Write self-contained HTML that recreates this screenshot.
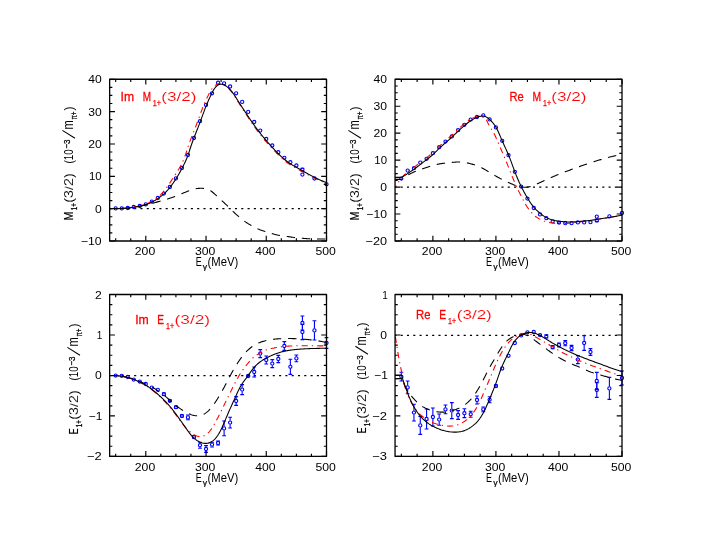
<!DOCTYPE html>
<html><head><meta charset="utf-8"><title>Multipoles</title>
<style>html,body{margin:0;padding:0;background:#fff}svg{display:block;will-change:transform;filter:opacity(1)}text{font-family:"Liberation Sans",sans-serif}</style></head>
<body>
<svg width="705" height="545" viewBox="0 0 705 545" font-family="Liberation Sans, sans-serif">
<rect width="705" height="545" fill="#fff"/>
<g id="p1">
<line x1="109.65" y1="208.50" x2="326.50" y2="208.50" stroke="#000" stroke-width="1.25" stroke-dasharray="2.1 4.2" stroke-dashoffset="0.7"/>
<circle cx="115.67" cy="208.40" r="1.6" stroke="#00f" stroke-width="1.12" fill="none"/>
<circle cx="121.70" cy="208.40" r="1.6" stroke="#00f" stroke-width="1.12" fill="none"/>
<circle cx="127.72" cy="208.00" r="1.6" stroke="#00f" stroke-width="1.12" fill="none"/>
<circle cx="133.74" cy="207.00" r="1.6" stroke="#00f" stroke-width="1.12" fill="none"/>
<circle cx="139.77" cy="206.00" r="1.6" stroke="#00f" stroke-width="1.12" fill="none"/>
<circle cx="145.79" cy="204.40" r="1.6" stroke="#00f" stroke-width="1.12" fill="none"/>
<circle cx="151.82" cy="201.60" r="1.6" stroke="#00f" stroke-width="1.12" fill="none"/>
<circle cx="157.84" cy="198.00" r="1.6" stroke="#00f" stroke-width="1.12" fill="none"/>
<circle cx="163.86" cy="193.60" r="1.6" stroke="#00f" stroke-width="1.12" fill="none"/>
<circle cx="169.89" cy="187.00" r="1.6" stroke="#00f" stroke-width="1.12" fill="none"/>
<circle cx="175.91" cy="178.40" r="1.6" stroke="#00f" stroke-width="1.12" fill="none"/>
<circle cx="181.93" cy="168.00" r="1.6" stroke="#00f" stroke-width="1.12" fill="none"/>
<circle cx="187.96" cy="155.00" r="1.6" stroke="#00f" stroke-width="1.12" fill="none"/>
<circle cx="193.98" cy="138.00" r="1.6" stroke="#00f" stroke-width="1.12" fill="none"/>
<circle cx="200.00" cy="121.20" r="1.6" stroke="#00f" stroke-width="1.12" fill="none"/>
<circle cx="206.03" cy="104.90" r="1.6" stroke="#00f" stroke-width="1.12" fill="none"/>
<circle cx="212.05" cy="93.30" r="1.6" stroke="#00f" stroke-width="1.12" fill="none"/>
<circle cx="218.07" cy="82.70" r="1.6" stroke="#00f" stroke-width="1.12" fill="none"/>
<circle cx="224.10" cy="83.30" r="1.6" stroke="#00f" stroke-width="1.12" fill="none"/>
<circle cx="230.12" cy="86.50" r="1.6" stroke="#00f" stroke-width="1.12" fill="none"/>
<circle cx="236.15" cy="93.30" r="1.6" stroke="#00f" stroke-width="1.12" fill="none"/>
<circle cx="242.17" cy="101.90" r="1.6" stroke="#00f" stroke-width="1.12" fill="none"/>
<circle cx="248.19" cy="111.90" r="1.6" stroke="#00f" stroke-width="1.12" fill="none"/>
<circle cx="254.22" cy="122.00" r="1.6" stroke="#00f" stroke-width="1.12" fill="none"/>
<circle cx="260.24" cy="130.60" r="1.6" stroke="#00f" stroke-width="1.12" fill="none"/>
<circle cx="266.26" cy="139.00" r="1.6" stroke="#00f" stroke-width="1.12" fill="none"/>
<circle cx="272.29" cy="145.50" r="1.6" stroke="#00f" stroke-width="1.12" fill="none"/>
<circle cx="278.31" cy="152.20" r="1.6" stroke="#00f" stroke-width="1.12" fill="none"/>
<circle cx="284.33" cy="157.80" r="1.6" stroke="#00f" stroke-width="1.12" fill="none"/>
<circle cx="290.36" cy="162.20" r="1.6" stroke="#00f" stroke-width="1.12" fill="none"/>
<circle cx="296.38" cy="165.50" r="1.6" stroke="#00f" stroke-width="1.12" fill="none"/>
<path d="M300.51,168.20h3.8M300.51,171.00h3.8" stroke="#00f" stroke-width="1.1" fill="none"/>
<circle cx="302.41" cy="169.60" r="1.6" stroke="#00f" stroke-width="1.12" fill="none"/>
<circle cx="302.41" cy="174.60" r="1.6" stroke="#00f" stroke-width="1.12" fill="none"/>
<circle cx="314.45" cy="178.50" r="1.6" stroke="#00f" stroke-width="1.12" fill="none"/>
<circle cx="326.50" cy="184.30" r="1.6" stroke="#00f" stroke-width="1.12" fill="none"/>
<path d="M109.60,208.60 L110.39,208.59 L111.19,208.59 L111.98,208.58 L112.78,208.57 L113.57,208.57 L114.37,208.56 L115.17,208.55 L115.97,208.54 L116.77,208.53 L117.56,208.51 L118.36,208.50 L119.16,208.48 L119.96,208.46 L120.76,208.43 L121.56,208.40 L122.36,208.37 L123.16,208.33 L123.95,208.29 L124.75,208.25 L125.55,208.19 L126.34,208.14 L127.14,208.08 L127.93,208.01 L128.73,207.93 L129.52,207.85 L130.31,207.76 L131.11,207.67 L131.90,207.57 L132.68,207.46 L133.47,207.34 L134.26,207.21 L135.04,207.07 L135.83,206.93 L136.61,206.78 L137.39,206.63 L138.17,206.47 L138.95,206.31 L139.73,206.14 L140.51,205.98 L141.29,205.81 L142.07,205.64 L142.85,205.48 L143.63,205.31 L144.42,205.15 L145.20,205.00 L145.98,204.85 L146.77,204.70 L147.55,204.55 L148.34,204.40 L149.12,204.25 L149.90,204.09 L150.68,203.92 L151.45,203.74 L152.23,203.54 L152.99,203.32 L153.76,203.10 L154.52,202.86 L155.28,202.61 L156.03,202.37 L156.79,202.12 L157.55,201.88 L158.32,201.64 L159.08,201.42 L159.85,201.19 L160.62,200.98 L161.38,200.77 L162.15,200.56 L162.92,200.35 L163.69,200.14 L164.46,199.93 L165.23,199.72 L166.00,199.50 L166.76,199.27 L167.52,199.04 L168.28,198.80 L169.04,198.55 L169.80,198.30 L170.55,198.04 L171.30,197.77 L172.05,197.50 L172.80,197.22 L173.55,196.94 L174.29,196.66 L175.04,196.37 L175.78,196.09 L176.52,195.80 L177.27,195.50 L178.01,195.21 L178.75,194.92 L179.49,194.62 L180.23,194.32 L180.97,194.02 L181.71,193.72 L182.44,193.42 L183.18,193.11 L183.92,192.81 L184.65,192.50 L185.39,192.20 L186.13,191.90 L186.87,191.60 L187.61,191.31 L188.35,191.02 L189.10,190.73 L189.85,190.46 L190.60,190.19 L191.35,189.93 L192.11,189.68 L192.88,189.44 L193.65,189.23 L194.42,189.03 L195.20,188.85 L195.98,188.70 L196.77,188.58 L197.56,188.48 L198.35,188.40 L199.15,188.35 L199.95,188.32 L200.75,188.30 L201.55,188.30 L202.34,188.32 L203.14,188.37 L203.94,188.44 L204.73,188.55 L205.51,188.70 L206.29,188.89 L207.06,189.12 L207.82,189.38 L208.56,189.69 L209.29,190.02 L210.00,190.40 L210.69,190.80 L211.36,191.24 L212.01,191.71 L212.63,192.21 L213.24,192.72 L213.85,193.25 L214.44,193.78 L215.03,194.32 L215.61,194.87 L216.20,195.41 L216.78,195.95 L217.37,196.49 L217.95,197.03 L218.54,197.58 L219.12,198.12 L219.70,198.66 L220.29,199.20 L220.87,199.74 L221.46,200.28 L222.04,200.83 L222.63,201.37 L223.22,201.91 L223.80,202.45 L224.39,202.99 L224.97,203.53 L225.55,204.08 L226.13,204.62 L226.71,205.17 L227.29,205.72 L227.86,206.28 L228.43,206.83 L229.00,207.40 L229.56,207.96 L230.12,208.53 L230.68,209.09 L231.24,209.66 L231.81,210.23 L232.37,210.79 L232.94,211.35 L233.50,211.91 L234.08,212.46 L234.66,213.01 L235.24,213.55 L235.83,214.09 L236.42,214.62 L237.02,215.15 L237.62,215.68 L238.23,216.20 L238.83,216.71 L239.45,217.23 L240.06,217.74 L240.68,218.24 L241.30,218.75 L241.92,219.25 L242.55,219.74 L243.18,220.23 L243.81,220.71 L244.45,221.18 L245.10,221.65 L245.75,222.11 L246.41,222.55 L247.08,222.99 L247.75,223.42 L248.43,223.84 L249.11,224.25 L249.80,224.66 L250.48,225.06 L251.18,225.46 L251.87,225.85 L252.57,226.24 L253.27,226.63 L253.98,227.00 L254.68,227.37 L255.40,227.73 L256.11,228.08 L256.84,228.42 L257.56,228.74 L258.29,229.06 L259.03,229.35 L259.78,229.64 L260.53,229.91 L261.28,230.17 L262.03,230.43 L262.79,230.68 L263.55,230.92 L264.31,231.16 L265.07,231.40 L265.83,231.65 L266.59,231.89 L267.35,232.14 L268.11,232.39 L268.87,232.64 L269.63,232.89 L270.38,233.13 L271.14,233.37 L271.91,233.61 L272.67,233.83 L273.44,234.05 L274.21,234.26 L274.98,234.46 L275.75,234.65 L276.53,234.83 L277.31,235.00 L278.09,235.17 L278.88,235.32 L279.66,235.46 L280.45,235.59 L281.23,235.71 L282.02,235.83 L282.81,235.93 L283.60,236.04 L284.40,236.13 L285.19,236.23 L285.98,236.33 L286.77,236.43 L287.56,236.53 L288.35,236.64 L289.14,236.76 L289.93,236.87 L290.72,236.99 L291.51,237.11 L292.30,237.22 L293.09,237.34 L293.87,237.44 L294.66,237.55 L295.46,237.65 L296.25,237.74 L297.04,237.82 L297.83,237.90 L298.63,237.97 L299.42,238.04 L300.22,238.10 L301.01,238.17 L301.81,238.23 L302.60,238.29 L303.40,238.36 L304.19,238.42 L304.99,238.48 L305.78,238.55 L306.58,238.61 L307.37,238.67 L308.17,238.73 L308.96,238.78 L309.76,238.83 L310.56,238.87 L311.35,238.91 L312.15,238.94 L312.94,238.96 L313.74,238.98 L314.54,238.99 L315.34,239.00 L316.13,239.00 L316.93,239.00 L317.73,239.00 L318.53,239.00 L319.32,238.99 L320.12,238.99 L320.92,238.98 L321.72,238.98 L322.52,238.98 L323.31,238.97 L324.11,238.98 L324.91,238.98 L325.70,238.99 L326.50,239.00" stroke="#000" stroke-width="1.08" fill="none" stroke-dasharray="8.4 6.8" stroke-dashoffset="2.2"/>
<path d="M109.60,208.60 L110.39,208.62 L111.19,208.64 L111.99,208.65 L112.78,208.67 L113.58,208.67 L114.38,208.67 L115.18,208.67 L115.98,208.67 L116.77,208.66 L117.57,208.64 L118.37,208.62 L119.17,208.60 L119.97,208.57 L120.77,208.53 L121.57,208.49 L122.37,208.45 L123.17,208.40 L123.96,208.34 L124.76,208.28 L125.56,208.21 L126.35,208.14 L127.15,208.06 L127.94,207.97 L128.74,207.88 L129.53,207.78 L130.32,207.68 L131.12,207.57 L131.91,207.45 L132.70,207.33 L133.48,207.20 L134.27,207.06 L135.05,206.92 L135.84,206.76 L136.62,206.60 L137.40,206.44 L138.18,206.26 L138.96,206.08 L139.73,205.89 L140.51,205.69 L141.28,205.49 L142.05,205.27 L142.81,205.05 L143.58,204.81 L144.34,204.57 L145.09,204.31 L145.85,204.05 L146.59,203.77 L147.34,203.48 L148.08,203.17 L148.81,202.86 L149.54,202.53 L150.26,202.19 L150.97,201.83 L151.68,201.46 L152.39,201.08 L153.08,200.68 L153.77,200.27 L154.45,199.85 L155.11,199.41 L155.77,198.95 L156.42,198.48 L157.05,198.00 L157.68,197.50 L158.29,196.99 L158.89,196.46 L159.47,195.92 L160.05,195.36 L160.61,194.79 L161.16,194.22 L161.71,193.63 L162.24,193.04 L162.77,192.43 L163.28,191.82 L163.79,191.21 L164.30,190.59 L164.80,189.96 L165.29,189.33 L165.77,188.70 L166.25,188.06 L166.72,187.42 L167.19,186.77 L167.66,186.12 L168.11,185.47 L168.57,184.81 L169.02,184.15 L169.46,183.49 L169.90,182.83 L170.34,182.16 L170.78,181.49 L171.22,180.83 L171.66,180.16 L172.09,179.49 L172.53,178.82 L172.97,178.15 L173.41,177.49 L173.85,176.82 L174.29,176.16 L174.74,175.49 L175.18,174.83 L175.62,174.16 L176.06,173.50 L176.50,172.83 L176.93,172.16 L177.37,171.49 L177.79,170.82 L178.21,170.14 L178.63,169.46 L179.04,168.77 L179.44,168.08 L179.84,167.39 L180.22,166.69 L180.60,165.99 L180.97,165.28 L181.34,164.57 L181.69,163.85 L182.04,163.13 L182.38,162.41 L182.71,161.68 L183.04,160.95 L183.36,160.22 L183.67,159.48 L183.97,158.74 L184.27,158.00 L184.56,157.25 L184.84,156.51 L185.11,155.75 L185.38,155.00 L185.63,154.25 L185.89,153.49 L186.14,152.73 L186.38,151.97 L186.62,151.21 L186.86,150.45 L187.10,149.69 L187.35,148.93 L187.59,148.17 L187.83,147.41 L188.08,146.65 L188.34,145.89 L188.60,145.14 L188.86,144.39 L189.13,143.63 L189.40,142.88 L189.67,142.13 L189.95,141.38 L190.23,140.64 L190.51,139.89 L190.79,139.14 L191.08,138.40 L191.36,137.65 L191.65,136.91 L191.94,136.17 L192.23,135.42 L192.52,134.68 L192.81,133.94 L193.11,133.19 L193.40,132.45 L193.69,131.71 L193.98,130.96 L194.27,130.22 L194.57,129.48 L194.86,128.74 L195.15,127.99 L195.44,127.25 L195.73,126.50 L196.01,125.76 L196.30,125.02 L196.58,124.27 L196.87,123.52 L197.15,122.78 L197.43,122.03 L197.70,121.28 L197.98,120.53 L198.25,119.78 L198.53,119.03 L198.80,118.28 L199.07,117.53 L199.35,116.78 L199.62,116.03 L199.89,115.28 L200.17,114.53 L200.44,113.78 L200.72,113.03 L200.99,112.28 L201.27,111.53 L201.55,110.79 L201.84,110.04 L202.12,109.30 L202.41,108.55 L202.70,107.81 L202.99,107.07 L203.29,106.33 L203.59,105.59 L203.89,104.85 L204.20,104.12 L204.51,103.38 L204.83,102.65 L205.15,101.92 L205.47,101.19 L205.80,100.47 L206.13,99.74 L206.47,99.02 L206.81,98.29 L207.15,97.57 L207.50,96.85 L207.85,96.14 L208.21,95.42 L208.57,94.71 L208.94,94.00 L209.31,93.29 L209.69,92.58 L210.08,91.88 L210.48,91.18 L210.89,90.49 L211.32,89.82 L211.76,89.16 L212.23,88.51 L212.73,87.88 L213.25,87.27 L213.80,86.69 L214.38,86.13 L215.00,85.61 L215.65,85.13 L216.33,84.71 L217.05,84.35 L217.80,84.06 L218.57,83.84 L219.37,83.72 L220.17,83.68 L220.97,83.75 L221.75,83.92 L222.51,84.17 L223.26,84.48 L223.97,84.85 L224.66,85.26 L225.32,85.70 L225.96,86.18 L226.59,86.68 L227.19,87.21 L227.78,87.75 L228.35,88.31 L228.91,88.88 L229.46,89.46 L229.99,90.06 L230.51,90.66 L231.02,91.28 L231.52,91.90 L232.00,92.54 L232.47,93.18 L232.93,93.83 L233.38,94.49 L233.83,95.15 L234.27,95.82 L234.71,96.49 L235.14,97.16 L235.57,97.83 L236.00,98.51 L236.42,99.18 L236.85,99.86 L237.28,100.53 L237.70,101.21 L238.13,101.88 L238.56,102.56 L238.99,103.23 L239.41,103.91 L239.84,104.58 L240.27,105.25 L240.70,105.92 L241.13,106.60 L241.56,107.27 L241.99,107.94 L242.42,108.61 L242.86,109.28 L243.29,109.95 L243.73,110.62 L244.16,111.29 L244.60,111.95 L245.03,112.62 L245.47,113.29 L245.91,113.96 L246.35,114.63 L246.78,115.29 L247.22,115.96 L247.66,116.63 L248.09,117.30 L248.53,117.97 L248.97,118.63 L249.40,119.30 L249.84,119.97 L250.28,120.64 L250.72,121.30 L251.16,121.97 L251.60,122.63 L252.05,123.30 L252.49,123.96 L252.94,124.62 L253.39,125.27 L253.85,125.93 L254.31,126.58 L254.77,127.23 L255.24,127.88 L255.70,128.53 L256.18,129.17 L256.65,129.81 L257.13,130.45 L257.61,131.09 L258.09,131.73 L258.57,132.36 L259.06,132.99 L259.55,133.62 L260.04,134.25 L260.53,134.88 L261.03,135.51 L261.53,136.13 L262.03,136.75 L262.53,137.38 L263.03,137.99 L263.54,138.61 L264.05,139.22 L264.57,139.83 L265.08,140.44 L265.60,141.05 L266.13,141.65 L266.66,142.25 L267.19,142.84 L267.72,143.43 L268.26,144.03 L268.79,144.62 L269.33,145.20 L269.87,145.79 L270.41,146.38 L270.96,146.97 L271.50,147.55 L272.04,148.14 L272.58,148.73 L273.12,149.32 L273.65,149.91 L274.19,150.50 L274.74,151.08 L275.28,151.67 L275.82,152.25 L276.37,152.83 L276.92,153.41 L277.48,153.98 L278.04,154.54 L278.61,155.10 L279.18,155.66 L279.76,156.21 L280.34,156.76 L280.93,157.30 L281.52,157.84 L282.11,158.37 L282.71,158.90 L283.31,159.42 L283.92,159.94 L284.53,160.46 L285.14,160.98 L285.76,161.49 L286.38,161.99 L287.01,162.48 L287.64,162.97 L288.28,163.44 L288.93,163.91 L289.59,164.36 L290.25,164.80 L290.93,165.22 L291.61,165.64 L292.30,166.04 L292.99,166.43 L293.69,166.82 L294.39,167.21 L295.09,167.59 L295.79,167.97 L296.49,168.36 L297.19,168.75 L297.88,169.14 L298.58,169.53 L299.27,169.93 L299.96,170.32 L300.66,170.72 L301.35,171.12 L302.04,171.51 L302.74,171.90 L303.43,172.30 L304.13,172.69 L304.83,173.08 L305.52,173.46 L306.22,173.85 L306.92,174.23 L307.63,174.61 L308.33,174.99 L309.03,175.37 L309.74,175.74 L310.45,176.11 L311.16,176.47 L311.87,176.84 L312.58,177.20 L313.29,177.55 L314.01,177.91 L314.73,178.26 L315.45,178.60 L316.17,178.94 L316.89,179.28 L317.62,179.61 L318.34,179.94 L319.07,180.26 L319.81,180.58 L320.54,180.89 L321.28,181.20 L322.01,181.50 L322.76,181.80 L323.50,182.09 L324.25,182.38 L324.99,182.66 L325.75,182.93 L326.50,183.20" stroke="#f00" stroke-width="1.08" fill="none" stroke-dasharray="6.2 4 1.3 4" stroke-dashoffset="-6.8"/>
<path d="M109.60,208.60 L110.40,208.58 L111.20,208.57 L111.99,208.55 L112.79,208.54 L113.59,208.53 L114.39,208.52 L115.19,208.51 L115.98,208.49 L116.78,208.48 L117.58,208.47 L118.38,208.46 L119.18,208.45 L119.97,208.43 L120.77,208.42 L121.57,208.40 L122.37,208.38 L123.17,208.36 L123.96,208.33 L124.76,208.30 L125.56,208.25 L126.36,208.21 L127.15,208.15 L127.95,208.08 L128.74,208.00 L129.53,207.91 L130.32,207.81 L131.12,207.70 L131.91,207.58 L132.70,207.46 L133.48,207.34 L134.27,207.21 L135.06,207.07 L135.84,206.94 L136.63,206.79 L137.42,206.65 L138.20,206.50 L138.98,206.35 L139.76,206.19 L140.55,206.02 L141.33,205.85 L142.11,205.67 L142.88,205.49 L143.65,205.29 L144.43,205.08 L145.19,204.86 L145.95,204.62 L146.71,204.37 L147.46,204.10 L148.21,203.81 L148.95,203.51 L149.69,203.20 L150.42,202.87 L151.14,202.53 L151.85,202.17 L152.56,201.80 L153.26,201.42 L153.95,201.03 L154.64,200.62 L155.32,200.21 L156.00,199.78 L156.67,199.35 L157.34,198.91 L158.00,198.46 L158.66,198.01 L159.32,197.55 L159.97,197.08 L160.61,196.61 L161.24,196.13 L161.87,195.63 L162.49,195.13 L163.10,194.61 L163.70,194.09 L164.29,193.55 L164.87,193.00 L165.44,192.44 L165.99,191.87 L166.54,191.29 L167.08,190.70 L167.62,190.11 L168.14,189.50 L168.66,188.89 L169.17,188.28 L169.67,187.66 L170.17,187.03 L170.67,186.40 L171.16,185.77 L171.64,185.13 L172.12,184.49 L172.59,183.85 L173.06,183.20 L173.52,182.55 L173.98,181.90 L174.43,181.24 L174.87,180.58 L175.31,179.91 L175.75,179.24 L176.17,178.57 L176.60,177.89 L177.01,177.21 L177.43,176.53 L177.83,175.84 L178.24,175.16 L178.64,174.47 L179.03,173.77 L179.42,173.08 L179.81,172.38 L180.20,171.68 L180.58,170.98 L180.96,170.27 L181.33,169.57 L181.71,168.86 L182.08,168.15 L182.45,167.45 L182.82,166.74 L183.19,166.02 L183.55,165.31 L183.91,164.60 L184.26,163.88 L184.61,163.16 L184.96,162.44 L185.30,161.72 L185.63,160.99 L185.96,160.26 L186.28,159.53 L186.60,158.80 L186.90,158.06 L187.20,157.33 L187.49,156.58 L187.78,155.84 L188.05,155.09 L188.31,154.34 L188.57,153.58 L188.82,152.82 L189.07,152.06 L189.31,151.30 L189.55,150.54 L189.79,149.78 L190.03,149.02 L190.27,148.26 L190.51,147.50 L190.76,146.74 L191.01,145.98 L191.26,145.22 L191.53,144.47 L191.79,143.72 L192.06,142.97 L192.34,142.22 L192.61,141.47 L192.89,140.72 L193.18,139.97 L193.46,139.23 L193.75,138.48 L194.03,137.74 L194.32,136.99 L194.61,136.25 L194.90,135.51 L195.19,134.76 L195.48,134.02 L195.77,133.28 L196.07,132.53 L196.36,131.79 L196.65,131.05 L196.94,130.30 L197.23,129.56 L197.52,128.82 L197.82,128.08 L198.10,127.33 L198.39,126.59 L198.68,125.84 L198.97,125.10 L199.25,124.35 L199.53,123.61 L199.82,122.86 L200.09,122.11 L200.37,121.36 L200.65,120.62 L200.92,119.87 L201.20,119.12 L201.47,118.37 L201.75,117.62 L202.02,116.87 L202.29,116.12 L202.57,115.37 L202.84,114.62 L203.11,113.87 L203.39,113.12 L203.67,112.37 L203.95,111.62 L204.23,110.88 L204.51,110.13 L204.79,109.38 L205.08,108.64 L205.37,107.89 L205.66,107.15 L205.96,106.41 L206.25,105.67 L206.56,104.93 L206.86,104.19 L207.17,103.45 L207.48,102.72 L207.80,101.98 L208.11,101.25 L208.43,100.52 L208.76,99.79 L209.08,99.06 L209.41,98.33 L209.75,97.61 L210.08,96.89 L210.42,96.16 L210.76,95.44 L211.11,94.72 L211.46,94.00 L211.81,93.29 L212.16,92.57 L212.52,91.86 L212.89,91.16 L213.28,90.46 L213.68,89.78 L214.11,89.10 L214.56,88.44 L215.04,87.80 L215.56,87.17 L216.12,86.56 L216.71,85.99 L217.34,85.46 L218.01,85.00 L218.72,84.63 L219.46,84.36 L220.24,84.21 L221.04,84.17 L221.84,84.24 L222.64,84.39 L223.41,84.62 L224.15,84.92 L224.87,85.27 L225.57,85.66 L226.25,86.10 L226.90,86.57 L227.53,87.06 L228.14,87.58 L228.73,88.12 L229.30,88.68 L229.85,89.26 L230.39,89.84 L230.91,90.45 L231.42,91.06 L231.92,91.69 L232.40,92.32 L232.88,92.96 L233.34,93.61 L233.80,94.27 L234.25,94.93 L234.69,95.60 L235.13,96.27 L235.57,96.94 L236.00,97.61 L236.43,98.29 L236.86,98.96 L237.29,99.63 L237.72,100.31 L238.15,100.98 L238.57,101.66 L239.00,102.33 L239.42,103.01 L239.85,103.68 L240.28,104.35 L240.70,105.03 L241.13,105.70 L241.56,106.37 L241.99,107.04 L242.42,107.71 L242.86,108.38 L243.29,109.05 L243.73,109.72 L244.17,110.39 L244.61,111.05 L245.05,111.72 L245.49,112.38 L245.93,113.05 L246.37,113.71 L246.82,114.38 L247.26,115.04 L247.70,115.71 L248.15,116.37 L248.59,117.03 L249.03,117.70 L249.48,118.36 L249.93,119.02 L250.37,119.68 L250.82,120.34 L251.27,121.00 L251.72,121.66 L252.17,122.32 L252.62,122.98 L253.08,123.63 L253.54,124.29 L254.00,124.94 L254.46,125.59 L254.92,126.24 L255.39,126.88 L255.86,127.53 L256.33,128.17 L256.81,128.81 L257.29,129.45 L257.77,130.09 L258.25,130.73 L258.73,131.36 L259.22,132.00 L259.71,132.63 L260.20,133.25 L260.69,133.88 L261.19,134.51 L261.69,135.13 L262.19,135.75 L262.69,136.37 L263.20,136.99 L263.71,137.60 L264.22,138.21 L264.74,138.82 L265.25,139.43 L265.77,140.04 L266.30,140.64 L266.82,141.24 L267.35,141.84 L267.88,142.44 L268.41,143.03 L268.94,143.63 L269.48,144.22 L270.01,144.81 L270.55,145.40 L271.09,145.99 L271.62,146.58 L272.16,147.18 L272.70,147.77 L273.23,148.36 L273.77,148.95 L274.31,149.53 L274.85,150.12 L275.40,150.70 L275.95,151.29 L276.50,151.86 L277.05,152.44 L277.61,153.01 L278.17,153.57 L278.74,154.13 L279.31,154.69 L279.89,155.24 L280.47,155.78 L281.06,156.32 L281.65,156.86 L282.25,157.39 L282.85,157.92 L283.45,158.44 L284.06,158.96 L284.67,159.48 L285.28,159.99 L285.90,160.50 L286.53,160.99 L287.16,161.49 L287.79,161.97 L288.43,162.44 L289.08,162.91 L289.74,163.36 L290.40,163.80 L291.08,164.23 L291.75,164.65 L292.44,165.06 L293.13,165.46 L293.82,165.86 L294.51,166.26 L295.21,166.65 L295.91,167.04 L296.61,167.43 L297.30,167.82 L298.00,168.21 L298.69,168.60 L299.39,169.00 L300.08,169.39 L300.77,169.79 L301.47,170.18 L302.16,170.58 L302.85,170.97 L303.55,171.37 L304.24,171.76 L304.93,172.16 L305.63,172.55 L306.32,172.94 L307.02,173.33 L307.72,173.72 L308.41,174.11 L309.11,174.50 L309.81,174.88 L310.51,175.26 L311.22,175.64 L311.92,176.02 L312.63,176.39 L313.34,176.76 L314.04,177.12 L314.76,177.48 L315.47,177.84 L316.19,178.19 L316.90,178.54 L317.62,178.88 L318.35,179.21 L319.07,179.55 L319.80,179.87 L320.53,180.19 L321.27,180.50 L322.00,180.81 L322.74,181.11 L323.49,181.40 L324.24,181.69 L324.99,181.97 L325.74,182.24 L326.50,182.50" stroke="#000" stroke-width="1.08" fill="none"/>
<rect x="109.65" y="79.25" width="216.85" height="161.75" fill="none" stroke="#000" stroke-width="1.3" stroke-linejoin="round"/>
<path d="M115.67,241.00v-2.7M115.67,79.25v2.7 M130.73,241.00v-2.7M130.73,79.25v2.7 M145.79,241.00v-5.3M145.79,79.25v5.3 M160.85,241.00v-2.7M160.85,79.25v2.7 M175.91,241.00v-2.7M175.91,79.25v2.7 M190.97,241.00v-2.7M190.97,79.25v2.7 M206.03,241.00v-5.3M206.03,79.25v5.3 M221.09,241.00v-2.7M221.09,79.25v2.7 M236.15,241.00v-2.7M236.15,79.25v2.7 M251.20,241.00v-2.7M251.20,79.25v2.7 M266.26,241.00v-5.3M266.26,79.25v5.3 M281.32,241.00v-2.7M281.32,79.25v2.7 M296.38,241.00v-2.7M296.38,79.25v2.7 M311.44,241.00v-2.7M311.44,79.25v2.7 M326.50,241.00v-5.3M326.50,79.25v5.3 M109.65,241.00h5.3M326.50,241.00h-5.3 M109.65,232.91h2.7M326.50,232.91h-2.7 M109.65,224.82h2.7M326.50,224.82h-2.7 M109.65,216.74h2.7M326.50,216.74h-2.7 M109.65,208.65h5.3M326.50,208.65h-5.3 M109.65,200.56h2.7M326.50,200.56h-2.7 M109.65,192.47h2.7M326.50,192.47h-2.7 M109.65,184.39h2.7M326.50,184.39h-2.7 M109.65,176.30h5.3M326.50,176.30h-5.3 M109.65,168.21h2.7M326.50,168.21h-2.7 M109.65,160.12h2.7M326.50,160.12h-2.7 M109.65,152.04h2.7M326.50,152.04h-2.7 M109.65,143.95h5.3M326.50,143.95h-5.3 M109.65,135.86h2.7M326.50,135.86h-2.7 M109.65,127.78h2.7M326.50,127.78h-2.7 M109.65,119.69h2.7M326.50,119.69h-2.7 M109.65,111.60h5.3M326.50,111.60h-5.3 M109.65,103.51h2.7M326.50,103.51h-2.7 M109.65,95.42h2.7M326.50,95.42h-2.7 M109.65,87.34h2.7M326.50,87.34h-2.7 M109.65,79.25h5.3M326.50,79.25h-5.3" stroke="#000" stroke-width="1.15" fill="none"/>
<text x="144.99" y="255.30" font-size="11" fill="#000" text-anchor="middle" textLength="20.40" lengthAdjust="spacingAndGlyphs" >200</text>
<text x="205.23" y="255.30" font-size="11" fill="#000" text-anchor="middle" textLength="20.40" lengthAdjust="spacingAndGlyphs" >300</text>
<text x="265.46" y="255.30" font-size="11" fill="#000" text-anchor="middle" textLength="20.40" lengthAdjust="spacingAndGlyphs" >400</text>
<text x="325.70" y="255.30" font-size="11" fill="#000" text-anchor="middle" textLength="20.40" lengthAdjust="spacingAndGlyphs" >500</text>
<text x="101.65" y="83.25" font-size="11" fill="#000" text-anchor="end" textLength="13.50" lengthAdjust="spacingAndGlyphs" >40</text>
<text x="101.65" y="115.60" font-size="11" fill="#000" text-anchor="end" textLength="13.50" lengthAdjust="spacingAndGlyphs" >30</text>
<text x="101.65" y="147.95" font-size="11" fill="#000" text-anchor="end" textLength="13.50" lengthAdjust="spacingAndGlyphs" >20</text>
<text x="101.65" y="180.30" font-size="11" fill="#000" text-anchor="end" textLength="12.70" lengthAdjust="spacingAndGlyphs" >10</text>
<text x="101.65" y="212.65" font-size="11" fill="#000" text-anchor="end" textLength="6.75" lengthAdjust="spacingAndGlyphs" >0</text>
<text x="101.65" y="245.00" font-size="11" fill="#000" text-anchor="end" textLength="20.70" lengthAdjust="spacingAndGlyphs" >−10</text>
<text x="195.68" y="266.30" font-size="12" fill="#000" text-anchor="start" textLength="6.00" lengthAdjust="spacingAndGlyphs" >E</text>
<text x="202.88" y="269.30" font-size="7.5" fill="#000" text-anchor="start" textLength="4.40" lengthAdjust="spacingAndGlyphs" stroke="#000" stroke-width="0.2">γ</text>
<text x="207.47" y="266.30" font-size="12" fill="#000" text-anchor="start" textLength="30.80" lengthAdjust="spacingAndGlyphs" >(MeV)</text>
</g>
<g id="p2">
<line x1="395.05" y1="187.00" x2="622.00" y2="187.00" stroke="#000" stroke-width="1.25" stroke-dasharray="2.1 4.2" stroke-dashoffset="0.7"/>
<circle cx="401.35" cy="178.60" r="1.6" stroke="#00f" stroke-width="1.12" fill="none"/>
<circle cx="407.66" cy="170.60" r="1.6" stroke="#00f" stroke-width="1.12" fill="none"/>
<circle cx="413.96" cy="168.20" r="1.6" stroke="#00f" stroke-width="1.12" fill="none"/>
<circle cx="420.27" cy="162.60" r="1.6" stroke="#00f" stroke-width="1.12" fill="none"/>
<circle cx="426.57" cy="158.80" r="1.6" stroke="#00f" stroke-width="1.12" fill="none"/>
<circle cx="432.88" cy="153.20" r="1.6" stroke="#00f" stroke-width="1.12" fill="none"/>
<circle cx="439.18" cy="147.20" r="1.6" stroke="#00f" stroke-width="1.12" fill="none"/>
<circle cx="445.48" cy="141.60" r="1.6" stroke="#00f" stroke-width="1.12" fill="none"/>
<circle cx="451.79" cy="136.40" r="1.6" stroke="#00f" stroke-width="1.12" fill="none"/>
<circle cx="458.09" cy="130.20" r="1.6" stroke="#00f" stroke-width="1.12" fill="none"/>
<circle cx="464.40" cy="124.80" r="1.6" stroke="#00f" stroke-width="1.12" fill="none"/>
<circle cx="470.70" cy="119.60" r="1.6" stroke="#00f" stroke-width="1.12" fill="none"/>
<circle cx="477.00" cy="117.00" r="1.6" stroke="#00f" stroke-width="1.12" fill="none"/>
<circle cx="483.31" cy="115.40" r="1.6" stroke="#00f" stroke-width="1.12" fill="none"/>
<circle cx="489.61" cy="119.40" r="1.6" stroke="#00f" stroke-width="1.12" fill="none"/>
<circle cx="495.92" cy="127.40" r="1.6" stroke="#00f" stroke-width="1.12" fill="none"/>
<circle cx="502.22" cy="140.80" r="1.6" stroke="#00f" stroke-width="1.12" fill="none"/>
<circle cx="508.52" cy="155.20" r="1.6" stroke="#00f" stroke-width="1.12" fill="none"/>
<circle cx="514.83" cy="171.80" r="1.6" stroke="#00f" stroke-width="1.12" fill="none"/>
<circle cx="521.13" cy="186.60" r="1.6" stroke="#00f" stroke-width="1.12" fill="none"/>
<circle cx="527.44" cy="198.60" r="1.6" stroke="#00f" stroke-width="1.12" fill="none"/>
<circle cx="533.74" cy="208.00" r="1.6" stroke="#00f" stroke-width="1.12" fill="none"/>
<circle cx="540.05" cy="214.40" r="1.6" stroke="#00f" stroke-width="1.12" fill="none"/>
<circle cx="546.35" cy="218.20" r="1.6" stroke="#00f" stroke-width="1.12" fill="none"/>
<circle cx="552.65" cy="221.40" r="1.6" stroke="#00f" stroke-width="1.12" fill="none"/>
<path d="M557.06,221.80h3.8M557.06,223.40h3.8" stroke="#00f" stroke-width="1.1" fill="none"/>
<circle cx="558.96" cy="222.60" r="1.6" stroke="#00f" stroke-width="1.12" fill="none"/>
<circle cx="565.26" cy="223.20" r="1.6" stroke="#00f" stroke-width="1.12" fill="none"/>
<circle cx="571.57" cy="223.20" r="1.6" stroke="#00f" stroke-width="1.12" fill="none"/>
<circle cx="577.87" cy="222.40" r="1.6" stroke="#00f" stroke-width="1.12" fill="none"/>
<circle cx="584.17" cy="222.40" r="1.6" stroke="#00f" stroke-width="1.12" fill="none"/>
<circle cx="590.48" cy="222.20" r="1.6" stroke="#00f" stroke-width="1.12" fill="none"/>
<circle cx="596.78" cy="216.60" r="1.6" stroke="#00f" stroke-width="1.12" fill="none"/>
<path d="M594.88,219.20h3.8M594.88,221.60h3.8" stroke="#00f" stroke-width="1.1" fill="none"/>
<circle cx="596.78" cy="220.40" r="1.6" stroke="#00f" stroke-width="1.12" fill="none"/>
<circle cx="609.39" cy="216.40" r="1.6" stroke="#00f" stroke-width="1.12" fill="none"/>
<circle cx="622.00" cy="213.00" r="1.6" stroke="#00f" stroke-width="1.12" fill="none"/>
<path d="M395.10,179.40 L401.40,179.40 L401.40,179.40 L402.04,178.92 L402.68,178.44 L403.33,177.98 L403.98,177.52 L404.65,177.08 L405.32,176.64 L405.99,176.21 L406.67,175.80 L407.36,175.39 L408.05,174.99 L408.75,174.60 L409.45,174.22 L410.15,173.84 L410.87,173.48 L411.58,173.12 L412.30,172.78 L413.02,172.44 L413.75,172.11 L414.48,171.79 L415.21,171.48 L415.95,171.17 L416.69,170.87 L417.43,170.58 L418.18,170.30 L418.93,170.02 L419.68,169.74 L420.43,169.48 L421.18,169.21 L421.94,168.95 L422.69,168.69 L423.45,168.44 L424.21,168.19 L424.97,167.94 L425.73,167.69 L426.49,167.44 L427.25,167.20 L428.01,166.95 L428.78,166.71 L429.54,166.47 L430.30,166.24 L431.07,166.01 L431.84,165.78 L432.60,165.56 L433.37,165.34 L434.14,165.13 L434.92,164.93 L435.69,164.74 L436.46,164.55 L437.24,164.37 L438.02,164.20 L438.80,164.04 L439.58,163.89 L440.36,163.75 L441.15,163.62 L441.94,163.50 L442.72,163.38 L443.51,163.27 L444.31,163.17 L445.10,163.08 L445.89,162.99 L446.69,162.90 L447.48,162.82 L448.28,162.74 L449.07,162.67 L449.87,162.59 L450.67,162.52 L451.47,162.45 L452.26,162.38 L453.06,162.30 L453.86,162.24 L454.66,162.17 L455.45,162.11 L456.25,162.06 L457.05,162.02 L457.85,161.99 L458.64,161.98 L459.44,161.99 L460.23,162.01 L461.03,162.05 L461.82,162.11 L462.61,162.19 L463.41,162.29 L464.20,162.40 L464.99,162.52 L465.78,162.66 L466.56,162.81 L467.35,162.98 L468.13,163.15 L468.91,163.33 L469.69,163.52 L470.47,163.72 L471.25,163.93 L472.02,164.14 L472.79,164.36 L473.56,164.59 L474.32,164.83 L475.08,165.08 L475.83,165.34 L476.59,165.61 L477.33,165.89 L478.07,166.18 L478.81,166.48 L479.54,166.79 L480.27,167.12 L480.99,167.46 L481.70,167.82 L482.41,168.18 L483.12,168.55 L483.82,168.93 L484.51,169.32 L485.21,169.72 L485.90,170.12 L486.59,170.53 L487.27,170.94 L487.96,171.35 L488.64,171.77 L489.32,172.19 L490.01,172.60 L490.69,173.02 L491.37,173.44 L492.06,173.85 L492.74,174.26 L493.43,174.67 L494.11,175.08 L494.80,175.48 L495.49,175.88 L496.18,176.28 L496.87,176.68 L497.57,177.07 L498.27,177.46 L498.96,177.84 L499.67,178.22 L500.37,178.60 L501.08,178.97 L501.79,179.33 L502.50,179.69 L503.21,180.05 L503.93,180.40 L504.65,180.75 L505.37,181.09 L506.09,181.43 L506.81,181.77 L507.54,182.10 L508.27,182.43 L509.00,182.76 L509.73,183.08 L510.46,183.40 L511.19,183.72 L511.93,184.03 L512.67,184.33 L513.41,184.63 L514.15,184.92 L514.90,185.20 L515.65,185.47 L516.41,185.72 L517.17,185.96 L517.94,186.18 L518.71,186.39 L519.49,186.58 L520.27,186.74 L521.06,186.89 L521.85,187.01 L522.64,187.10 L523.44,187.17 L524.24,187.21 L525.04,187.22 L525.84,187.19 L526.64,187.14 L527.43,187.06 L528.23,186.94 L529.01,186.80 L529.79,186.62 L530.56,186.42 L531.33,186.20 L532.08,185.95 L532.84,185.68 L533.59,185.40 L534.33,185.10 L535.07,184.79 L535.81,184.48 L536.55,184.16 L537.28,183.84 L538.01,183.52 L538.74,183.19 L539.47,182.86 L540.20,182.53 L540.92,182.20 L541.65,181.86 L542.37,181.52 L543.09,181.19 L543.82,180.85 L544.54,180.51 L545.26,180.18 L545.98,179.84 L546.71,179.50 L547.43,179.17 L548.15,178.84 L548.88,178.51 L549.60,178.18 L550.33,177.85 L551.06,177.53 L551.79,177.21 L552.52,176.89 L553.25,176.58 L553.99,176.26 L554.72,175.95 L555.46,175.65 L556.20,175.34 L556.93,175.04 L557.67,174.73 L558.41,174.44 L559.15,174.14 L559.90,173.84 L560.64,173.55 L561.38,173.26 L562.13,172.97 L562.87,172.68 L563.62,172.39 L564.36,172.11 L565.11,171.82 L565.86,171.54 L566.60,171.26 L567.35,170.98 L568.10,170.70 L568.85,170.42 L569.60,170.15 L570.35,169.87 L571.10,169.60 L571.85,169.32 L572.60,169.05 L573.35,168.78 L574.10,168.51 L574.85,168.24 L575.60,167.97 L576.35,167.70 L577.11,167.43 L577.86,167.17 L578.61,166.90 L579.36,166.63 L580.12,166.37 L580.87,166.11 L581.62,165.85 L582.38,165.58 L583.13,165.32 L583.89,165.06 L584.64,164.81 L585.40,164.55 L586.15,164.29 L586.91,164.04 L587.66,163.78 L588.42,163.53 L589.18,163.27 L589.94,163.02 L590.69,162.77 L591.45,162.52 L592.21,162.27 L592.97,162.02 L593.73,161.77 L594.49,161.53 L595.25,161.28 L596.01,161.04 L596.77,160.80 L597.53,160.56 L598.29,160.32 L599.06,160.09 L599.82,159.86 L600.59,159.62 L601.35,159.40 L602.12,159.17 L602.88,158.94 L603.65,158.72 L604.42,158.50 L605.18,158.29 L605.95,158.07 L606.72,157.86 L607.49,157.65 L608.26,157.45 L609.04,157.25 L609.81,157.05 L610.58,156.85 L611.36,156.66 L612.13,156.47 L612.91,156.29 L613.69,156.11 L614.46,155.93 L615.24,155.76 L616.02,155.59 L616.80,155.43 L617.59,155.27 L618.37,155.11 L619.15,154.96 L619.94,154.81 L620.72,154.67 L621.51,154.53 L622.30,154.40" stroke="#000" stroke-width="1.08" fill="none" stroke-dasharray="8.4 6.8" stroke-dashoffset="0.7"/>
<path d="M395.10,187.20 L395.59,186.57 L396.06,185.92 L396.52,185.27 L396.96,184.61 L397.40,183.94 L397.83,183.26 L398.26,182.58 L398.69,181.91 L399.13,181.23 L399.56,180.56 L400.01,179.90 L400.47,179.24 L400.94,178.60 L401.43,177.97 L401.93,177.35 L402.46,176.75 L403.00,176.16 L403.56,175.59 L404.13,175.03 L404.71,174.48 L405.30,173.94 L405.91,173.41 L406.52,172.89 L407.14,172.37 L407.76,171.87 L408.39,171.37 L409.02,170.88 L409.66,170.40 L410.30,169.92 L410.94,169.44 L411.58,168.97 L412.22,168.49 L412.87,168.02 L413.52,167.55 L414.16,167.08 L414.81,166.61 L415.45,166.14 L416.10,165.67 L416.74,165.19 L417.38,164.72 L418.02,164.24 L418.66,163.76 L419.30,163.28 L419.94,162.80 L420.58,162.31 L421.21,161.83 L421.84,161.34 L422.48,160.85 L423.11,160.36 L423.74,159.87 L424.37,159.38 L425.00,158.89 L425.63,158.40 L426.26,157.91 L426.90,157.42 L427.53,156.92 L428.16,156.43 L428.79,155.94 L429.41,155.44 L430.04,154.94 L430.66,154.43 L431.27,153.92 L431.88,153.41 L432.48,152.88 L433.08,152.35 L433.67,151.81 L434.25,151.26 L434.82,150.71 L435.40,150.15 L435.97,149.59 L436.54,149.03 L437.10,148.46 L437.67,147.90 L438.24,147.34 L438.81,146.78 L439.39,146.23 L439.97,145.68 L440.55,145.13 L441.14,144.59 L441.73,144.05 L442.32,143.51 L442.92,142.98 L443.51,142.45 L444.11,141.92 L444.72,141.39 L445.32,140.87 L445.93,140.35 L446.53,139.82 L447.14,139.30 L447.75,138.78 L448.35,138.26 L448.96,137.74 L449.56,137.22 L450.16,136.69 L450.76,136.16 L451.35,135.62 L451.94,135.08 L452.53,134.54 L453.11,133.99 L453.69,133.44 L454.27,132.89 L454.84,132.33 L455.42,131.78 L455.99,131.22 L456.57,130.67 L457.15,130.11 L457.72,129.56 L458.31,129.01 L458.89,128.47 L459.48,127.92 L460.07,127.38 L460.66,126.85 L461.26,126.32 L461.86,125.79 L462.46,125.27 L463.07,124.75 L463.68,124.23 L464.30,123.72 L464.92,123.22 L465.54,122.72 L466.17,122.22 L466.81,121.74 L467.45,121.27 L468.10,120.80 L468.76,120.35 L469.43,119.91 L470.11,119.49 L470.81,119.08 L471.51,118.69 L472.23,118.32 L472.95,117.97 L473.69,117.64 L474.44,117.35 L475.19,117.08 L475.96,116.85 L476.73,116.66 L477.51,116.50 L478.30,116.39 L479.10,116.33 L479.90,116.32 L480.71,116.37 L481.53,116.48 L482.34,116.65 L483.12,116.90 L483.86,117.23 L484.54,117.64 L485.15,118.14 L485.66,118.72 L486.10,119.37 L486.49,120.08 L486.85,120.81 L487.20,121.57 L487.55,122.31 L487.91,123.05 L488.29,123.77 L488.68,124.48 L489.07,125.18 L489.48,125.87 L489.89,126.55 L490.31,127.23 L490.72,127.91 L491.14,128.58 L491.56,129.26 L491.97,129.93 L492.38,130.61 L492.79,131.29 L493.18,131.97 L493.57,132.66 L493.95,133.36 L494.31,134.07 L494.67,134.78 L495.03,135.49 L495.37,136.21 L495.71,136.93 L496.05,137.66 L496.37,138.39 L496.70,139.12 L497.02,139.86 L497.34,140.60 L497.65,141.33 L497.97,142.07 L498.28,142.81 L498.59,143.56 L498.90,144.30 L499.21,145.04 L499.53,145.77 L499.84,146.51 L500.16,147.25 L500.48,147.98 L500.79,148.72 L501.11,149.45 L501.43,150.19 L501.75,150.92 L502.06,151.65 L502.38,152.39 L502.70,153.12 L503.01,153.85 L503.33,154.59 L503.65,155.32 L503.96,156.05 L504.27,156.79 L504.58,157.52 L504.89,158.26 L505.20,159.00 L505.50,159.73 L505.81,160.47 L506.11,161.21 L506.41,161.95 L506.71,162.69 L507.01,163.43 L507.30,164.18 L507.60,164.92 L507.89,165.66 L508.19,166.40 L508.48,167.15 L508.78,167.89 L509.07,168.64 L509.36,169.38 L509.66,170.12 L509.95,170.87 L510.25,171.61 L510.54,172.35 L510.84,173.10 L511.14,173.84 L511.43,174.58 L511.73,175.32 L512.04,176.06 L512.34,176.80 L512.64,177.54 L512.95,178.28 L513.26,179.02 L513.57,179.76 L513.88,180.49 L514.19,181.23 L514.51,181.96 L514.82,182.70 L515.14,183.43 L515.46,184.16 L515.79,184.89 L516.11,185.62 L516.44,186.35 L516.77,187.08 L517.11,187.80 L517.45,188.53 L517.79,189.25 L518.13,189.97 L518.47,190.69 L518.82,191.41 L519.17,192.13 L519.52,192.85 L519.88,193.57 L520.24,194.28 L520.60,194.99 L520.96,195.71 L521.32,196.42 L521.69,197.13 L522.06,197.84 L522.43,198.55 L522.80,199.25 L523.18,199.96 L523.56,200.67 L523.94,201.37 L524.32,202.08 L524.71,202.78 L525.10,203.47 L525.50,204.17 L525.90,204.86 L526.31,205.54 L526.73,206.23 L527.16,206.90 L527.59,207.57 L528.04,208.24 L528.49,208.89 L528.96,209.54 L529.44,210.19 L529.93,210.82 L530.44,211.45 L530.96,212.06 L531.49,212.66 L532.03,213.25 L532.59,213.83 L533.16,214.39 L533.75,214.94 L534.35,215.47 L534.96,215.98 L535.59,216.47 L536.24,216.94 L536.90,217.40 L537.57,217.83 L538.26,218.25 L538.95,218.64 L539.66,219.02 L540.37,219.38 L541.10,219.73 L541.83,220.06 L542.57,220.37 L543.31,220.67 L544.06,220.95 L544.82,221.21 L545.58,221.46 L546.35,221.70 L547.12,221.91 L547.89,222.12 L548.67,222.31 L549.45,222.48 L550.23,222.65 L551.02,222.79 L551.81,222.93 L552.60,223.05 L553.39,223.16 L554.19,223.25 L554.98,223.34 L555.78,223.41 L556.58,223.47 L557.38,223.52 L558.17,223.57 L558.97,223.60 L559.77,223.62 L560.57,223.64 L561.38,223.64 L562.18,223.64 L562.98,223.63 L563.77,223.61 L564.57,223.58 L565.37,223.55 L566.17,223.50 L566.97,223.45 L567.77,223.40 L568.57,223.33 L569.36,223.26 L570.16,223.18 L570.95,223.10 L571.75,223.01 L572.54,222.92 L573.33,222.82 L574.13,222.72 L574.92,222.61 L575.71,222.51 L576.50,222.40 L577.30,222.29 L578.09,222.19 L578.88,222.08 L579.67,221.98 L580.47,221.88 L581.26,221.77 L582.05,221.67 L582.85,221.57 L583.64,221.47 L584.43,221.36 L585.22,221.26 L586.02,221.16 L586.81,221.05 L587.60,220.94 L588.39,220.83 L589.18,220.72 L589.98,220.60 L590.77,220.49 L591.56,220.37 L592.35,220.24 L593.14,220.12 L593.92,219.99 L594.71,219.87 L595.50,219.74 L596.29,219.61 L597.08,219.48 L597.87,219.35 L598.66,219.22 L599.45,219.09 L600.24,218.96 L601.03,218.83 L601.82,218.71 L602.60,218.58 L603.39,218.46 L604.18,218.33 L604.97,218.21 L605.76,218.08 L606.55,217.95 L607.34,217.83 L608.13,217.70 L608.92,217.58 L609.71,217.45 L610.50,217.32 L611.29,217.19 L612.08,217.06 L612.86,216.93 L613.65,216.80 L614.44,216.66 L615.23,216.53 L616.02,216.39 L616.80,216.25 L617.59,216.11 L618.38,215.96 L619.16,215.82 L619.95,215.67 L620.73,215.51 L621.52,215.36 L622.30,215.20" stroke="#f00" stroke-width="1.08" fill="none" stroke-dasharray="6.2 4 1.3 4" stroke-dashoffset="4.3"/>
<path d="M395.10,177.40 L401.40,177.40 L401.40,177.40 L402.09,177.00 L402.78,176.60 L403.47,176.19 L404.15,175.78 L404.83,175.36 L405.51,174.94 L406.19,174.51 L406.86,174.08 L407.53,173.65 L408.20,173.21 L408.86,172.77 L409.52,172.32 L410.19,171.87 L410.84,171.42 L411.50,170.97 L412.16,170.51 L412.81,170.05 L413.46,169.59 L414.11,169.12 L414.76,168.65 L415.40,168.19 L416.05,167.71 L416.69,167.24 L417.33,166.76 L417.97,166.29 L418.61,165.81 L419.25,165.33 L419.88,164.84 L420.52,164.36 L421.15,163.87 L421.78,163.39 L422.41,162.90 L423.04,162.41 L423.68,161.92 L424.31,161.43 L424.94,160.94 L425.57,160.45 L426.20,159.96 L426.83,159.47 L427.46,158.98 L428.09,158.49 L428.72,157.99 L429.34,157.50 L429.97,157.00 L430.59,156.49 L431.20,155.98 L431.81,155.47 L432.41,154.94 L433.01,154.41 L433.60,153.87 L434.18,153.33 L434.76,152.78 L435.33,152.22 L435.90,151.66 L436.47,151.10 L437.03,150.53 L437.60,149.97 L438.17,149.41 L438.74,148.85 L439.31,148.30 L439.89,147.75 L440.47,147.20 L441.06,146.66 L441.65,146.12 L442.24,145.58 L442.84,145.05 L443.43,144.52 L444.03,143.99 L444.63,143.46 L445.24,142.94 L445.84,142.42 L446.45,141.90 L447.05,141.38 L447.66,140.86 L448.27,140.34 L448.87,139.82 L449.47,139.30 L450.07,138.77 L450.67,138.24 L451.27,137.71 L451.85,137.17 L452.44,136.62 L453.02,136.07 L453.60,135.52 L454.17,134.97 L454.75,134.42 L455.32,133.86 L455.90,133.31 L456.47,132.75 L457.05,132.20 L457.63,131.65 L458.21,131.10 L458.79,130.56 L459.38,130.02 L459.97,129.49 L460.57,128.96 L461.17,128.43 L461.77,127.90 L462.37,127.38 L462.97,126.85 L463.58,126.33 L464.19,125.81 L464.80,125.29 L465.41,124.77 L466.03,124.26 L466.65,123.75 L467.27,123.25 L467.90,122.75 L468.53,122.27 L469.17,121.79 L469.82,121.33 L470.47,120.88 L471.14,120.45 L471.81,120.03 L472.49,119.63 L473.18,119.24 L473.88,118.87 L474.59,118.51 L475.32,118.16 L476.05,117.82 L476.80,117.49 L477.56,117.17 L478.33,116.86 L479.11,116.59 L479.89,116.35 L480.68,116.16 L481.47,116.03 L482.25,115.97 L483.03,115.98 L483.79,116.09 L484.55,116.28 L485.29,116.54 L486.02,116.87 L486.73,117.26 L487.43,117.70 L488.11,118.18 L488.77,118.70 L489.41,119.23 L490.03,119.79 L490.62,120.35 L491.20,120.93 L491.75,121.53 L492.28,122.13 L492.80,122.74 L493.29,123.37 L493.77,124.00 L494.24,124.64 L494.69,125.30 L495.12,125.96 L495.54,126.63 L495.95,127.31 L496.34,128.00 L496.73,128.69 L497.10,129.39 L497.46,130.10 L497.82,130.81 L498.16,131.53 L498.50,132.25 L498.84,132.97 L499.16,133.70 L499.49,134.43 L499.81,135.17 L500.12,135.91 L500.44,136.64 L500.75,137.38 L501.06,138.12 L501.37,138.86 L501.69,139.60 L502.00,140.34 L502.32,141.08 L502.64,141.81 L502.96,142.54 L503.29,143.28 L503.62,144.01 L503.95,144.73 L504.28,145.46 L504.61,146.19 L504.94,146.92 L505.27,147.64 L505.60,148.37 L505.93,149.10 L506.26,149.82 L506.58,150.55 L506.91,151.28 L507.23,152.01 L507.55,152.74 L507.87,153.47 L508.18,154.20 L508.49,154.94 L508.80,155.67 L509.10,156.41 L509.39,157.15 L509.69,157.89 L509.98,158.63 L510.26,159.38 L510.55,160.12 L510.83,160.87 L511.11,161.62 L511.39,162.37 L511.67,163.12 L511.94,163.87 L512.22,164.62 L512.49,165.37 L512.77,166.12 L513.04,166.87 L513.32,167.62 L513.59,168.37 L513.87,169.12 L514.15,169.87 L514.43,170.62 L514.71,171.36 L514.99,172.11 L515.28,172.86 L515.57,173.60 L515.86,174.35 L516.16,175.09 L516.46,175.83 L516.76,176.57 L517.06,177.31 L517.37,178.05 L517.68,178.78 L518.00,179.52 L518.31,180.25 L518.63,180.98 L518.96,181.71 L519.28,182.44 L519.62,183.17 L519.95,183.89 L520.29,184.61 L520.63,185.33 L520.98,186.05 L521.33,186.77 L521.69,187.48 L522.05,188.19 L522.41,188.90 L522.78,189.61 L523.15,190.32 L523.52,191.02 L523.90,191.73 L524.29,192.43 L524.67,193.13 L525.06,193.82 L525.45,194.52 L525.85,195.21 L526.25,195.91 L526.65,196.60 L527.06,197.29 L527.47,197.98 L527.88,198.66 L528.29,199.35 L528.71,200.03 L529.14,200.71 L529.56,201.39 L530.00,202.06 L530.44,202.73 L530.89,203.39 L531.35,204.04 L531.82,204.69 L532.30,205.33 L532.78,205.96 L533.28,206.58 L533.79,207.19 L534.32,207.79 L534.85,208.38 L535.40,208.97 L535.96,209.54 L536.52,210.10 L537.10,210.65 L537.69,211.20 L538.28,211.73 L538.89,212.26 L539.50,212.78 L540.11,213.29 L540.74,213.80 L541.37,214.29 L542.00,214.78 L542.65,215.25 L543.30,215.71 L543.97,216.16 L544.64,216.59 L545.32,217.00 L546.02,217.39 L546.72,217.77 L547.44,218.12 L548.17,218.45 L548.90,218.76 L549.65,219.05 L550.40,219.33 L551.16,219.58 L551.93,219.81 L552.70,220.03 L553.47,220.22 L554.25,220.40 L555.04,220.57 L555.82,220.71 L556.61,220.85 L557.40,220.98 L558.19,221.09 L558.98,221.20 L559.77,221.30 L560.57,221.39 L561.36,221.47 L562.15,221.55 L562.95,221.62 L563.74,221.69 L564.54,221.75 L565.34,221.81 L566.14,221.86 L566.93,221.91 L567.73,221.94 L568.53,221.98 L569.33,222.00 L570.13,222.01 L570.92,222.01 L571.72,222.00 L572.52,221.97 L573.32,221.94 L574.12,221.89 L574.91,221.84 L575.71,221.78 L576.51,221.72 L577.30,221.65 L578.10,221.57 L578.89,221.50 L579.69,221.42 L580.48,221.35 L581.28,221.27 L582.07,221.20 L582.87,221.12 L583.66,221.05 L584.46,220.98 L585.25,220.91 L586.05,220.84 L586.84,220.77 L587.64,220.70 L588.43,220.62 L589.23,220.54 L590.02,220.45 L590.81,220.35 L591.60,220.24 L592.39,220.12 L593.18,220.00 L593.97,219.87 L594.76,219.74 L595.55,219.61 L596.34,219.48 L597.12,219.35 L597.91,219.22 L598.70,219.09 L599.49,218.96 L600.28,218.83 L601.07,218.71 L601.85,218.59 L602.64,218.46 L603.43,218.34 L604.22,218.22 L605.01,218.09 L605.80,217.97 L606.59,217.85 L607.38,217.72 L608.16,217.60 L608.95,217.47 L609.74,217.34 L610.53,217.22 L611.32,217.09 L612.10,216.96 L612.89,216.82 L613.68,216.69 L614.46,216.55 L615.25,216.41 L616.04,216.26 L616.82,216.12 L617.60,215.97 L618.39,215.82 L619.17,215.66 L619.96,215.50 L620.74,215.34 L621.52,215.17 L622.30,215.00" stroke="#000" stroke-width="1.08" fill="none"/>
<rect x="395.05" y="79.25" width="226.95" height="161.75" fill="none" stroke="#000" stroke-width="1.3" stroke-linejoin="round"/>
<path d="M401.35,241.00v-2.7M401.35,79.25v2.7 M417.11,241.00v-2.7M417.11,79.25v2.7 M432.88,241.00v-5.3M432.88,79.25v5.3 M448.64,241.00v-2.7M448.64,79.25v2.7 M464.40,241.00v-2.7M464.40,79.25v2.7 M480.16,241.00v-2.7M480.16,79.25v2.7 M495.92,241.00v-5.3M495.92,79.25v5.3 M511.68,241.00v-2.7M511.68,79.25v2.7 M527.44,241.00v-2.7M527.44,79.25v2.7 M543.20,241.00v-2.7M543.20,79.25v2.7 M558.96,241.00v-5.3M558.96,79.25v5.3 M574.72,241.00v-2.7M574.72,79.25v2.7 M590.48,241.00v-2.7M590.48,79.25v2.7 M606.24,241.00v-2.7M606.24,79.25v2.7 M622.00,241.00v-5.3M622.00,79.25v5.3 M395.05,241.00h5.3M622.00,241.00h-5.3 M395.05,234.26h2.7M622.00,234.26h-2.7 M395.05,227.52h2.7M622.00,227.52h-2.7 M395.05,220.78h2.7M622.00,220.78h-2.7 M395.05,214.04h5.3M622.00,214.04h-5.3 M395.05,207.30h2.7M622.00,207.30h-2.7 M395.05,200.56h2.7M622.00,200.56h-2.7 M395.05,193.82h2.7M622.00,193.82h-2.7 M395.05,187.08h5.3M622.00,187.08h-5.3 M395.05,180.34h2.7M622.00,180.34h-2.7 M395.05,173.60h2.7M622.00,173.60h-2.7 M395.05,166.86h2.7M622.00,166.86h-2.7 M395.05,160.12h5.3M622.00,160.12h-5.3 M395.05,153.39h2.7M622.00,153.39h-2.7 M395.05,146.65h2.7M622.00,146.65h-2.7 M395.05,139.91h2.7M622.00,139.91h-2.7 M395.05,133.17h5.3M622.00,133.17h-5.3 M395.05,126.43h2.7M622.00,126.43h-2.7 M395.05,119.69h2.7M622.00,119.69h-2.7 M395.05,112.95h2.7M622.00,112.95h-2.7 M395.05,106.21h5.3M622.00,106.21h-5.3 M395.05,99.47h2.7M622.00,99.47h-2.7 M395.05,92.73h2.7M622.00,92.73h-2.7 M395.05,85.99h2.7M622.00,85.99h-2.7 M395.05,79.25h5.3M622.00,79.25h-5.3" stroke="#000" stroke-width="1.15" fill="none"/>
<text x="432.07" y="255.30" font-size="11" fill="#000" text-anchor="middle" textLength="20.40" lengthAdjust="spacingAndGlyphs" >200</text>
<text x="495.12" y="255.30" font-size="11" fill="#000" text-anchor="middle" textLength="20.40" lengthAdjust="spacingAndGlyphs" >300</text>
<text x="558.16" y="255.30" font-size="11" fill="#000" text-anchor="middle" textLength="20.40" lengthAdjust="spacingAndGlyphs" >400</text>
<text x="621.20" y="255.30" font-size="11" fill="#000" text-anchor="middle" textLength="20.40" lengthAdjust="spacingAndGlyphs" >500</text>
<text x="387.05" y="83.25" font-size="11" fill="#000" text-anchor="end" textLength="13.50" lengthAdjust="spacingAndGlyphs" >40</text>
<text x="387.05" y="110.21" font-size="11" fill="#000" text-anchor="end" textLength="13.50" lengthAdjust="spacingAndGlyphs" >30</text>
<text x="387.05" y="137.17" font-size="11" fill="#000" text-anchor="end" textLength="13.50" lengthAdjust="spacingAndGlyphs" >20</text>
<text x="387.05" y="164.12" font-size="11" fill="#000" text-anchor="end" textLength="12.70" lengthAdjust="spacingAndGlyphs" >10</text>
<text x="387.05" y="191.08" font-size="11" fill="#000" text-anchor="end" textLength="6.75" lengthAdjust="spacingAndGlyphs" >0</text>
<text x="387.05" y="218.04" font-size="11" fill="#000" text-anchor="end" textLength="20.70" lengthAdjust="spacingAndGlyphs" >−10</text>
<text x="387.05" y="245.00" font-size="11" fill="#000" text-anchor="end" textLength="21.50" lengthAdjust="spacingAndGlyphs" >−20</text>
<text x="486.12" y="266.30" font-size="12" fill="#000" text-anchor="start" textLength="6.00" lengthAdjust="spacingAndGlyphs" >E</text>
<text x="493.32" y="269.30" font-size="7.5" fill="#000" text-anchor="start" textLength="4.40" lengthAdjust="spacingAndGlyphs" stroke="#000" stroke-width="0.2">γ</text>
<text x="497.93" y="266.30" font-size="12" fill="#000" text-anchor="start" textLength="30.80" lengthAdjust="spacingAndGlyphs" >(MeV)</text>
</g>
<g id="p3">
<line x1="109.65" y1="375.50" x2="326.50" y2="375.50" stroke="#000" stroke-width="1.25" stroke-dasharray="2.1 4.2" stroke-dashoffset="0.7"/>
<circle cx="115.67" cy="375.60" r="1.6" stroke="#00f" stroke-width="1.12" fill="none"/>
<circle cx="121.70" cy="375.80" r="1.6" stroke="#00f" stroke-width="1.12" fill="none"/>
<circle cx="127.72" cy="377.00" r="1.6" stroke="#00f" stroke-width="1.12" fill="none"/>
<circle cx="133.74" cy="379.60" r="1.6" stroke="#00f" stroke-width="1.12" fill="none"/>
<circle cx="139.77" cy="381.60" r="1.6" stroke="#00f" stroke-width="1.12" fill="none"/>
<circle cx="145.79" cy="384.00" r="1.6" stroke="#00f" stroke-width="1.12" fill="none"/>
<circle cx="151.82" cy="387.60" r="1.6" stroke="#00f" stroke-width="1.12" fill="none"/>
<circle cx="157.84" cy="389.80" r="1.6" stroke="#00f" stroke-width="1.12" fill="none"/>
<path d="M161.96,393.00h3.8M161.96,395.40h3.8" stroke="#00f" stroke-width="1.1" fill="none"/>
<circle cx="163.86" cy="394.20" r="1.6" stroke="#00f" stroke-width="1.12" fill="none"/>
<path d="M167.99,400.00h3.8M167.99,401.60h3.8" stroke="#00f" stroke-width="1.1" fill="none"/>
<circle cx="169.89" cy="400.80" r="1.6" stroke="#00f" stroke-width="1.12" fill="none"/>
<path d="M174.01,406.20h3.8M174.01,408.20h3.8" stroke="#00f" stroke-width="1.1" fill="none"/>
<circle cx="175.91" cy="407.20" r="1.6" stroke="#00f" stroke-width="1.12" fill="none"/>
<path d="M180.03,415.00h3.8M180.03,417.00h3.8" stroke="#00f" stroke-width="1.1" fill="none"/>
<circle cx="181.93" cy="416.00" r="1.6" stroke="#00f" stroke-width="1.12" fill="none"/>
<path d="M186.06,415.00h3.8M186.06,419.80h3.8M187.96,415.00V415.50M187.96,419.30V419.80" stroke="#00f" stroke-width="1.1" fill="none"/>
<circle cx="187.96" cy="417.40" r="1.6" stroke="#00f" stroke-width="1.12" fill="none"/>
<path d="M192.08,435.80h3.8M192.08,438.20h3.8" stroke="#00f" stroke-width="1.1" fill="none"/>
<circle cx="193.98" cy="437.00" r="1.6" stroke="#00f" stroke-width="1.12" fill="none"/>
<path d="M198.10,442.20h3.8M198.10,448.20h3.8M200.00,442.20V443.30M200.00,447.10V448.20" stroke="#00f" stroke-width="1.1" fill="none"/>
<circle cx="200.00" cy="445.20" r="1.6" stroke="#00f" stroke-width="1.12" fill="none"/>
<path d="M204.13,445.60h3.8M204.13,452.40h3.8M206.03,445.60V447.10M206.03,450.90V452.40" stroke="#00f" stroke-width="1.1" fill="none"/>
<circle cx="206.03" cy="449.00" r="1.6" stroke="#00f" stroke-width="1.12" fill="none"/>
<path d="M210.15,442.20h3.8M210.15,447.00h3.8M212.05,442.20V442.70M212.05,446.50V447.00" stroke="#00f" stroke-width="1.1" fill="none"/>
<circle cx="212.05" cy="444.60" r="1.6" stroke="#00f" stroke-width="1.12" fill="none"/>
<path d="M216.17,441.00h3.8M216.17,445.00h3.8" stroke="#00f" stroke-width="1.1" fill="none"/>
<circle cx="218.07" cy="443.00" r="1.6" stroke="#00f" stroke-width="1.12" fill="none"/>
<path d="M222.20,421.00h3.8M222.20,435.80h3.8M224.10,421.00V426.50M224.10,430.30V435.80" stroke="#00f" stroke-width="1.1" fill="none"/>
<circle cx="224.10" cy="428.40" r="1.6" stroke="#00f" stroke-width="1.12" fill="none"/>
<path d="M228.22,417.20h3.8M228.22,428.00h3.8M230.12,417.20V420.70M230.12,424.50V428.00" stroke="#00f" stroke-width="1.1" fill="none"/>
<circle cx="230.12" cy="422.60" r="1.6" stroke="#00f" stroke-width="1.12" fill="none"/>
<path d="M234.25,396.60h3.8M234.25,405.40h3.8M236.15,396.60V399.10M236.15,402.90V405.40" stroke="#00f" stroke-width="1.1" fill="none"/>
<circle cx="236.15" cy="401.00" r="1.6" stroke="#00f" stroke-width="1.12" fill="none"/>
<path d="M240.27,384.60h3.8M240.27,394.60h3.8M242.17,384.60V387.70M242.17,391.50V394.60" stroke="#00f" stroke-width="1.1" fill="none"/>
<circle cx="242.17" cy="389.60" r="1.6" stroke="#00f" stroke-width="1.12" fill="none"/>
<path d="M246.29,375.20h3.8M246.29,376.80h3.8" stroke="#00f" stroke-width="1.1" fill="none"/>
<circle cx="248.19" cy="376.00" r="1.6" stroke="#00f" stroke-width="1.12" fill="none"/>
<path d="M252.32,367.00h3.8M252.32,377.00h3.8M254.22,367.00V370.10M254.22,373.90V377.00" stroke="#00f" stroke-width="1.1" fill="none"/>
<circle cx="254.22" cy="372.00" r="1.6" stroke="#00f" stroke-width="1.12" fill="none"/>
<path d="M258.34,349.60h3.8M258.34,357.60h3.8M260.24,349.60V351.70M260.24,355.50V357.60" stroke="#00f" stroke-width="1.1" fill="none"/>
<circle cx="260.24" cy="353.60" r="1.6" stroke="#00f" stroke-width="1.12" fill="none"/>
<path d="M264.36,356.00h3.8M264.36,364.00h3.8M266.26,356.00V358.10M266.26,361.90V364.00" stroke="#00f" stroke-width="1.1" fill="none"/>
<circle cx="266.26" cy="360.00" r="1.6" stroke="#00f" stroke-width="1.12" fill="none"/>
<path d="M270.39,359.60h3.8M270.39,367.60h3.8M272.29,359.60V361.70M272.29,365.50V367.60" stroke="#00f" stroke-width="1.1" fill="none"/>
<circle cx="272.29" cy="363.60" r="1.6" stroke="#00f" stroke-width="1.12" fill="none"/>
<path d="M276.41,355.40h3.8M276.41,362.60h3.8M278.31,355.40V357.10M278.31,360.90V362.60" stroke="#00f" stroke-width="1.1" fill="none"/>
<circle cx="278.31" cy="359.00" r="1.6" stroke="#00f" stroke-width="1.12" fill="none"/>
<path d="M282.43,341.60h3.8M282.43,350.40h3.8M284.33,341.60V344.10M284.33,347.90V350.40" stroke="#00f" stroke-width="1.1" fill="none"/>
<circle cx="284.33" cy="346.00" r="1.6" stroke="#00f" stroke-width="1.12" fill="none"/>
<path d="M288.46,359.20h3.8M288.46,374.40h3.8M290.36,359.20V364.90M290.36,368.70V374.40" stroke="#00f" stroke-width="1.1" fill="none"/>
<circle cx="290.36" cy="366.80" r="1.6" stroke="#00f" stroke-width="1.12" fill="none"/>
<path d="M294.48,355.00h3.8M294.48,361.80h3.8M296.38,355.00V356.50M296.38,360.30V361.80" stroke="#00f" stroke-width="1.1" fill="none"/>
<circle cx="296.38" cy="358.40" r="1.6" stroke="#00f" stroke-width="1.12" fill="none"/>
<path d="M300.51,316.00h3.8M300.51,330.00h3.8M302.41,316.00V321.10M302.41,324.90V330.00" stroke="#00f" stroke-width="1.1" fill="none"/>
<circle cx="302.41" cy="323.00" r="1.6" stroke="#00f" stroke-width="1.12" fill="none"/>
<path d="M300.51,324.40h3.8M300.51,339.60h3.8M302.41,324.40V330.10M302.41,333.90V339.60" stroke="#00f" stroke-width="1.1" fill="none"/>
<circle cx="302.41" cy="332.00" r="1.6" stroke="#00f" stroke-width="1.12" fill="none"/>
<path d="M312.55,320.80h3.8M312.55,340.00h3.8M314.45,320.80V328.50M314.45,332.30V340.00" stroke="#00f" stroke-width="1.1" fill="none"/>
<circle cx="314.45" cy="330.40" r="1.6" stroke="#00f" stroke-width="1.12" fill="none"/>
<path d="M324.60,337.60h3.8M324.60,348.40h3.8M326.50,337.60V341.10M326.50,344.90V348.40" stroke="#00f" stroke-width="1.1" fill="none"/>
<circle cx="326.50" cy="343.00" r="1.6" stroke="#00f" stroke-width="1.12" fill="none"/>
<path d="M109.60,375.60 L110.40,375.56 L111.20,375.54 L112.01,375.52 L112.81,375.52 L113.61,375.53 L114.41,375.55 L115.21,375.58 L116.01,375.63 L116.80,375.68 L117.60,375.75 L118.40,375.82 L119.19,375.91 L119.99,376.00 L120.78,376.11 L121.57,376.23 L122.36,376.35 L123.15,376.49 L123.94,376.63 L124.72,376.79 L125.51,376.95 L126.29,377.13 L127.07,377.31 L127.84,377.50 L128.62,377.70 L129.39,377.91 L130.16,378.13 L130.93,378.35 L131.70,378.58 L132.46,378.82 L133.22,379.07 L133.98,379.33 L134.73,379.59 L135.48,379.86 L136.23,380.14 L136.98,380.42 L137.73,380.71 L138.47,381.00 L139.21,381.30 L139.95,381.60 L140.69,381.91 L141.43,382.22 L142.16,382.53 L142.90,382.84 L143.64,383.15 L144.37,383.47 L145.11,383.79 L145.84,384.10 L146.58,384.42 L147.31,384.74 L148.04,385.07 L148.77,385.40 L149.49,385.74 L150.21,386.08 L150.93,386.44 L151.63,386.82 L152.33,387.20 L153.02,387.61 L153.70,388.02 L154.38,388.44 L155.05,388.88 L155.72,389.32 L156.39,389.76 L157.05,390.22 L157.70,390.67 L158.36,391.13 L159.01,391.59 L159.66,392.06 L160.31,392.53 L160.96,393.00 L161.60,393.47 L162.24,393.95 L162.87,394.44 L163.51,394.93 L164.13,395.42 L164.76,395.92 L165.38,396.42 L166.00,396.93 L166.61,397.44 L167.22,397.95 L167.83,398.47 L168.44,398.99 L169.05,399.52 L169.65,400.04 L170.25,400.57 L170.85,401.10 L171.45,401.63 L172.05,402.16 L172.65,402.68 L173.25,403.21 L173.85,403.73 L174.46,404.25 L175.07,404.76 L175.69,405.27 L176.31,405.78 L176.94,406.27 L177.57,406.76 L178.21,407.24 L178.86,407.72 L179.51,408.18 L180.16,408.64 L180.82,409.09 L181.49,409.53 L182.16,409.96 L182.84,410.38 L183.53,410.79 L184.22,411.19 L184.91,411.58 L185.62,411.97 L186.32,412.35 L187.03,412.71 L187.75,413.07 L188.47,413.43 L189.20,413.77 L189.93,414.09 L190.67,414.40 L191.42,414.69 L192.17,414.95 L192.94,415.18 L193.71,415.38 L194.50,415.55 L195.30,415.67 L196.10,415.76 L196.90,415.81 L197.71,415.81 L198.51,415.77 L199.31,415.68 L200.10,415.54 L200.88,415.36 L201.65,415.12 L202.40,414.85 L203.15,414.53 L203.87,414.17 L204.58,413.78 L205.26,413.36 L205.93,412.91 L206.57,412.43 L207.20,411.93 L207.80,411.40 L208.39,410.85 L208.95,410.29 L209.51,409.71 L210.05,409.11 L210.57,408.51 L211.09,407.89 L211.59,407.26 L212.09,406.63 L212.58,406.00 L213.06,405.36 L213.53,404.71 L214.00,404.06 L214.46,403.41 L214.92,402.75 L215.36,402.09 L215.81,401.43 L216.25,400.76 L216.68,400.09 L217.11,399.42 L217.54,398.74 L217.96,398.06 L218.38,397.38 L218.80,396.70 L219.21,396.02 L219.62,395.33 L220.03,394.64 L220.43,393.95 L220.83,393.26 L221.23,392.57 L221.63,391.87 L222.02,391.18 L222.41,390.48 L222.80,389.78 L223.18,389.08 L223.57,388.38 L223.95,387.67 L224.32,386.97 L224.70,386.26 L225.07,385.56 L225.44,384.85 L225.81,384.14 L226.18,383.43 L226.55,382.72 L226.92,382.01 L227.29,381.30 L227.65,380.59 L228.02,379.88 L228.39,379.17 L228.76,378.46 L229.13,377.76 L229.50,377.05 L229.87,376.34 L230.24,375.63 L230.62,374.93 L231.00,374.22 L231.38,373.52 L231.76,372.82 L232.15,372.12 L232.53,371.42 L232.93,370.72 L233.32,370.03 L233.72,369.33 L234.12,368.64 L234.53,367.95 L234.94,367.27 L235.35,366.59 L235.77,365.90 L236.19,365.23 L236.62,364.55 L237.05,363.88 L237.48,363.21 L237.92,362.54 L238.37,361.87 L238.82,361.21 L239.27,360.55 L239.72,359.89 L240.18,359.24 L240.65,358.59 L241.12,357.94 L241.60,357.30 L242.08,356.66 L242.56,356.02 L243.06,355.40 L243.56,354.77 L244.07,354.16 L244.59,353.55 L245.12,352.95 L245.66,352.36 L246.21,351.78 L246.77,351.21 L247.34,350.64 L247.92,350.09 L248.51,349.55 L249.11,349.02 L249.73,348.50 L250.35,347.99 L250.98,347.50 L251.62,347.02 L252.27,346.55 L252.93,346.09 L253.60,345.65 L254.28,345.23 L254.97,344.82 L255.66,344.42 L256.37,344.04 L257.08,343.68 L257.80,343.33 L258.53,343.00 L259.27,342.69 L260.01,342.40 L260.76,342.12 L261.52,341.86 L262.28,341.61 L263.04,341.38 L263.81,341.16 L264.58,340.95 L265.36,340.75 L266.14,340.57 L266.92,340.39 L267.70,340.22 L268.48,340.06 L269.27,339.91 L270.06,339.77 L270.85,339.64 L271.64,339.51 L272.43,339.40 L273.22,339.29 L274.01,339.20 L274.81,339.11 L275.60,339.03 L276.40,338.96 L277.20,338.90 L277.99,338.84 L278.79,338.79 L279.59,338.75 L280.39,338.71 L281.19,338.68 L281.99,338.65 L282.79,338.63 L283.59,338.61 L284.39,338.59 L285.19,338.58 L285.98,338.57 L286.78,338.56 L287.58,338.55 L288.38,338.55 L289.18,338.55 L289.98,338.56 L290.78,338.57 L291.58,338.58 L292.38,338.59 L293.18,338.61 L293.98,338.63 L294.78,338.66 L295.58,338.68 L296.37,338.72 L297.17,338.75 L297.97,338.79 L298.77,338.83 L299.57,338.88 L300.36,338.93 L301.16,338.98 L301.96,339.04 L302.76,339.10 L303.55,339.16 L304.35,339.23 L305.15,339.30 L305.94,339.37 L306.74,339.45 L307.53,339.53 L308.33,339.61 L309.12,339.70 L309.92,339.79 L310.71,339.88 L311.51,339.98 L312.30,340.08 L313.09,340.18 L313.89,340.29 L314.68,340.40 L315.47,340.51 L316.26,340.63 L317.05,340.75 L317.84,340.87 L318.63,340.99 L319.42,341.12 L320.21,341.25 L321.00,341.38 L321.79,341.52 L322.57,341.66 L323.36,341.80 L324.15,341.95 L324.93,342.10 L325.72,342.25 L326.50,342.40" stroke="#000" stroke-width="1.08" fill="none" stroke-dasharray="8.4 6.8" stroke-dashoffset="1.0"/>
<path d="M109.60,375.60 L110.40,375.56 L111.21,375.54 L112.01,375.53 L112.81,375.53 L113.61,375.54 L114.41,375.57 L115.21,375.61 L116.01,375.66 L116.80,375.72 L117.60,375.79 L118.39,375.88 L119.18,375.97 L119.97,376.08 L120.76,376.20 L121.55,376.33 L122.34,376.46 L123.12,376.61 L123.90,376.77 L124.69,376.94 L125.46,377.12 L126.24,377.31 L127.01,377.51 L127.79,377.72 L128.56,377.94 L129.32,378.16 L130.09,378.40 L130.85,378.64 L131.61,378.89 L132.37,379.15 L133.12,379.42 L133.87,379.70 L134.62,379.99 L135.36,380.28 L136.11,380.58 L136.84,380.89 L137.58,381.21 L138.31,381.54 L139.04,381.87 L139.76,382.21 L140.48,382.56 L141.19,382.92 L141.90,383.29 L142.60,383.67 L143.30,384.05 L144.00,384.45 L144.69,384.85 L145.37,385.26 L146.05,385.68 L146.72,386.11 L147.39,386.55 L148.06,386.99 L148.71,387.44 L149.37,387.91 L150.01,388.37 L150.66,388.85 L151.29,389.33 L151.93,389.82 L152.56,390.31 L153.18,390.81 L153.80,391.32 L154.42,391.83 L155.03,392.34 L155.64,392.86 L156.24,393.39 L156.84,393.92 L157.44,394.45 L158.03,394.99 L158.62,395.53 L159.21,396.08 L159.79,396.62 L160.37,397.18 L160.94,397.73 L161.51,398.29 L162.08,398.85 L162.65,399.42 L163.21,399.99 L163.77,400.56 L164.32,401.13 L164.87,401.71 L165.42,402.29 L165.96,402.88 L166.50,403.47 L167.04,404.06 L167.57,404.66 L168.10,405.25 L168.62,405.86 L169.14,406.46 L169.66,407.07 L170.17,407.68 L170.68,408.29 L171.19,408.91 L171.69,409.53 L172.19,410.15 L172.69,410.77 L173.18,411.40 L173.67,412.02 L174.16,412.65 L174.65,413.28 L175.14,413.92 L175.62,414.55 L176.11,415.19 L176.59,415.82 L177.07,416.46 L177.55,417.10 L178.03,417.74 L178.51,418.38 L178.99,419.02 L179.47,419.66 L179.95,420.30 L180.42,420.94 L180.91,421.58 L181.39,422.22 L181.87,422.86 L182.35,423.49 L182.84,424.13 L183.33,424.76 L183.83,425.39 L184.33,426.01 L184.84,426.62 L185.36,427.23 L185.89,427.83 L186.43,428.41 L186.98,428.98 L187.55,429.54 L188.13,430.09 L188.72,430.63 L189.33,431.15 L189.94,431.66 L190.57,432.16 L191.20,432.65 L191.84,433.13 L192.49,433.60 L193.16,434.04 L193.83,434.47 L194.52,434.87 L195.23,435.24 L195.96,435.58 L196.70,435.89 L197.47,436.15 L198.24,436.36 L199.03,436.51 L199.82,436.59 L200.62,436.60 L201.42,436.53 L202.22,436.38 L202.99,436.17 L203.75,435.90 L204.49,435.57 L205.19,435.20 L205.87,434.77 L206.52,434.30 L207.15,433.80 L207.75,433.26 L208.33,432.70 L208.89,432.12 L209.43,431.52 L209.95,430.90 L210.44,430.28 L210.92,429.64 L211.39,428.99 L211.84,428.33 L212.28,427.66 L212.70,426.99 L213.12,426.30 L213.53,425.61 L213.93,424.92 L214.32,424.22 L214.71,423.52 L215.10,422.82 L215.48,422.12 L215.86,421.42 L216.24,420.71 L216.62,420.01 L217.00,419.31 L217.37,418.60 L217.74,417.89 L218.11,417.19 L218.48,416.48 L218.85,415.77 L219.21,415.06 L219.57,414.35 L219.93,413.64 L220.29,412.92 L220.65,412.21 L221.00,411.50 L221.35,410.78 L221.71,410.06 L222.06,409.35 L222.40,408.63 L222.75,407.91 L223.10,407.19 L223.44,406.47 L223.79,405.75 L224.13,405.03 L224.48,404.31 L224.82,403.59 L225.16,402.87 L225.51,402.15 L225.85,401.43 L226.20,400.71 L226.54,399.99 L226.89,399.27 L227.23,398.55 L227.58,397.83 L227.93,397.11 L228.28,396.40 L228.63,395.68 L228.99,394.96 L229.34,394.25 L229.69,393.53 L230.05,392.82 L230.41,392.10 L230.76,391.39 L231.12,390.68 L231.48,389.97 L231.84,389.25 L232.20,388.54 L232.56,387.83 L232.92,387.12 L233.28,386.40 L233.65,385.69 L234.01,384.98 L234.37,384.27 L234.74,383.55 L235.11,382.84 L235.47,382.13 L235.84,381.42 L236.22,380.72 L236.59,380.01 L236.97,379.31 L237.35,378.60 L237.74,377.91 L238.13,377.21 L238.53,376.52 L238.93,375.83 L239.34,375.14 L239.75,374.46 L240.17,373.78 L240.60,373.11 L241.04,372.44 L241.48,371.78 L241.93,371.12 L242.39,370.47 L242.85,369.82 L243.32,369.18 L243.80,368.54 L244.28,367.90 L244.77,367.27 L245.26,366.64 L245.75,366.01 L246.25,365.39 L246.76,364.77 L247.27,364.15 L247.78,363.53 L248.29,362.91 L248.81,362.30 L249.33,361.69 L249.86,361.08 L250.39,360.49 L250.94,359.90 L251.49,359.32 L252.05,358.76 L252.63,358.21 L253.22,357.67 L253.82,357.15 L254.44,356.65 L255.07,356.17 L255.71,355.70 L256.37,355.25 L257.03,354.80 L257.71,354.38 L258.39,353.95 L259.08,353.54 L259.77,353.13 L260.47,352.73 L261.16,352.33 L261.86,351.94 L262.57,351.56 L263.28,351.20 L264.00,350.85 L264.72,350.52 L265.46,350.21 L266.20,349.93 L266.95,349.67 L267.71,349.43 L268.48,349.21 L269.25,349.01 L270.03,348.83 L270.82,348.65 L271.60,348.48 L272.38,348.32 L273.17,348.16 L273.95,348.01 L274.74,347.86 L275.52,347.72 L276.31,347.58 L277.09,347.45 L277.88,347.32 L278.67,347.20 L279.46,347.08 L280.25,346.97 L281.04,346.86 L281.83,346.76 L282.62,346.67 L283.42,346.58 L284.21,346.50 L285.01,346.42 L285.80,346.35 L286.60,346.28 L287.39,346.22 L288.19,346.16 L288.99,346.11 L289.78,346.06 L290.58,346.02 L291.38,345.97 L292.18,345.94 L292.97,345.90 L293.77,345.87 L294.57,345.84 L295.37,345.82 L296.17,345.80 L296.97,345.77 L297.76,345.76 L298.56,345.74 L299.36,345.73 L300.16,345.71 L300.96,345.70 L301.75,345.69 L302.55,345.69 L303.35,345.68 L304.15,345.68 L304.95,345.68 L305.75,345.68 L306.54,345.68 L307.34,345.68 L308.14,345.69 L308.94,345.69 L309.74,345.70 L310.54,345.71 L311.33,345.71 L312.13,345.72 L312.93,345.73 L313.73,345.75 L314.53,345.76 L315.33,345.77 L316.12,345.79 L316.92,345.80 L317.72,345.82 L318.52,345.83 L319.32,345.85 L320.12,345.86 L320.91,345.88 L321.71,345.90 L322.51,345.91 L323.31,345.93 L324.11,345.95 L324.90,345.97 L325.70,345.98 L326.50,346.00" stroke="#f00" stroke-width="1.08" fill="none" stroke-dasharray="6.2 4 1.3 4" stroke-dashoffset="1.5"/>
<path d="M109.60,375.60 L110.40,375.60 L111.20,375.60 L112.00,375.61 L112.80,375.62 L113.59,375.63 L114.39,375.65 L115.19,375.68 L115.99,375.72 L116.79,375.76 L117.59,375.81 L118.39,375.88 L119.18,375.95 L119.98,376.03 L120.77,376.12 L121.56,376.22 L122.36,376.34 L123.14,376.47 L123.93,376.60 L124.72,376.76 L125.50,376.92 L126.28,377.10 L127.06,377.29 L127.83,377.49 L128.60,377.70 L129.37,377.93 L130.13,378.17 L130.89,378.41 L131.65,378.67 L132.40,378.95 L133.15,379.23 L133.89,379.52 L134.64,379.82 L135.37,380.12 L136.11,380.44 L136.84,380.76 L137.57,381.08 L138.30,381.41 L139.03,381.74 L139.76,382.07 L140.48,382.40 L141.21,382.74 L141.93,383.08 L142.66,383.43 L143.37,383.79 L144.08,384.15 L144.78,384.53 L145.48,384.93 L146.16,385.34 L146.84,385.76 L147.50,386.20 L148.16,386.66 L148.81,387.12 L149.46,387.59 L150.10,388.07 L150.74,388.55 L151.38,389.03 L152.02,389.52 L152.65,390.01 L153.28,390.50 L153.91,390.99 L154.54,391.49 L155.17,391.98 L155.79,392.49 L156.40,392.99 L157.02,393.50 L157.63,394.02 L158.23,394.55 L158.83,395.07 L159.42,395.61 L160.01,396.15 L160.60,396.69 L161.18,397.24 L161.76,397.79 L162.33,398.35 L162.90,398.91 L163.47,399.47 L164.04,400.04 L164.60,400.61 L165.16,401.18 L165.72,401.75 L166.27,402.33 L166.82,402.91 L167.36,403.50 L167.90,404.08 L168.44,404.68 L168.97,405.27 L169.49,405.88 L170.01,406.48 L170.53,407.09 L171.04,407.71 L171.54,408.33 L172.04,408.95 L172.54,409.58 L173.03,410.21 L173.52,410.84 L174.01,411.47 L174.49,412.11 L174.97,412.75 L175.45,413.39 L175.92,414.04 L176.39,414.68 L176.86,415.33 L177.33,415.98 L177.80,416.63 L178.26,417.28 L178.73,417.93 L179.19,418.58 L179.65,419.23 L180.11,419.89 L180.57,420.54 L181.03,421.19 L181.49,421.85 L181.95,422.50 L182.41,423.15 L182.87,423.80 L183.33,424.46 L183.79,425.11 L184.25,425.76 L184.71,426.42 L185.17,427.07 L185.63,427.72 L186.09,428.37 L186.55,429.03 L187.02,429.68 L187.48,430.33 L187.95,430.99 L188.42,431.64 L188.89,432.29 L189.37,432.94 L189.85,433.58 L190.34,434.21 L190.85,434.83 L191.36,435.45 L191.88,436.05 L192.42,436.64 L192.98,437.21 L193.55,437.77 L194.14,438.30 L194.75,438.82 L195.37,439.32 L196.01,439.80 L196.67,440.25 L197.35,440.69 L198.04,441.10 L198.75,441.48 L199.47,441.84 L200.20,442.18 L200.95,442.49 L201.71,442.76 L202.48,442.99 L203.26,443.18 L204.05,443.31 L204.85,443.39 L205.65,443.41 L206.45,443.37 L207.25,443.26 L208.05,443.10 L208.83,442.89 L209.60,442.63 L210.35,442.32 L211.07,441.96 L211.77,441.56 L212.44,441.12 L213.08,440.65 L213.70,440.14 L214.29,439.60 L214.86,439.03 L215.41,438.43 L215.94,437.82 L216.45,437.18 L216.94,436.53 L217.42,435.87 L217.87,435.20 L218.31,434.51 L218.74,433.83 L219.15,433.14 L219.55,432.44 L219.94,431.74 L220.32,431.03 L220.68,430.32 L221.04,429.60 L221.39,428.89 L221.73,428.17 L222.06,427.44 L222.39,426.71 L222.71,425.99 L223.03,425.25 L223.35,424.52 L223.66,423.79 L223.98,423.05 L224.29,422.32 L224.60,421.58 L224.91,420.85 L225.22,420.11 L225.53,419.38 L225.84,418.64 L226.16,417.90 L226.47,417.17 L226.78,416.43 L227.09,415.70 L227.41,414.96 L227.72,414.23 L228.04,413.49 L228.35,412.76 L228.67,412.02 L228.99,411.29 L229.31,410.56 L229.63,409.83 L229.96,409.10 L230.28,408.37 L230.61,407.64 L230.94,406.91 L231.27,406.19 L231.60,405.46 L231.93,404.73 L232.26,404.01 L232.60,403.28 L232.93,402.55 L233.26,401.83 L233.60,401.10 L233.93,400.37 L234.26,399.64 L234.59,398.91 L234.92,398.18 L235.24,397.45 L235.57,396.72 L235.90,395.99 L236.22,395.25 L236.55,394.52 L236.88,393.79 L237.21,393.06 L237.55,392.33 L237.88,391.60 L238.23,390.88 L238.58,390.16 L238.93,389.44 L239.29,388.73 L239.66,388.02 L240.04,387.32 L240.42,386.62 L240.82,385.93 L241.23,385.24 L241.64,384.56 L242.07,383.89 L242.51,383.23 L242.96,382.57 L243.42,381.92 L243.89,381.27 L244.36,380.63 L244.84,379.99 L245.32,379.35 L245.80,378.71 L246.28,378.07 L246.76,377.42 L247.23,376.78 L247.71,376.13 L248.17,375.48 L248.63,374.82 L249.09,374.16 L249.54,373.50 L249.99,372.84 L250.45,372.18 L250.91,371.53 L251.37,370.88 L251.84,370.23 L252.31,369.59 L252.80,368.96 L253.30,368.33 L253.81,367.72 L254.34,367.12 L254.88,366.53 L255.43,365.96 L256.00,365.39 L256.58,364.84 L257.17,364.30 L257.77,363.77 L258.39,363.26 L259.01,362.75 L259.65,362.26 L260.29,361.79 L260.94,361.32 L261.60,360.87 L262.27,360.42 L262.94,359.99 L263.62,359.57 L264.31,359.16 L265.00,358.76 L265.69,358.37 L266.40,357.99 L267.10,357.61 L267.82,357.25 L268.53,356.89 L269.25,356.55 L269.97,356.21 L270.70,355.87 L271.43,355.55 L272.17,355.23 L272.90,354.92 L273.64,354.61 L274.38,354.31 L275.13,354.02 L275.88,353.74 L276.63,353.47 L277.38,353.21 L278.14,352.95 L278.90,352.71 L279.67,352.48 L280.43,352.25 L281.20,352.04 L281.98,351.83 L282.75,351.64 L283.53,351.45 L284.31,351.28 L285.09,351.11 L285.87,350.95 L286.66,350.79 L287.45,350.65 L288.23,350.51 L289.02,350.38 L289.81,350.26 L290.60,350.15 L291.40,350.03 L292.19,349.93 L292.98,349.83 L293.78,349.74 L294.57,349.65 L295.37,349.56 L296.16,349.48 L296.96,349.41 L297.76,349.33 L298.55,349.27 L299.35,349.20 L300.15,349.14 L300.94,349.08 L301.74,349.02 L302.54,348.97 L303.34,348.92 L304.13,348.87 L304.93,348.83 L305.73,348.79 L306.53,348.75 L307.33,348.71 L308.12,348.67 L308.92,348.64 L309.72,348.61 L310.52,348.58 L311.32,348.55 L312.12,348.53 L312.92,348.50 L313.72,348.48 L314.52,348.46 L315.31,348.44 L316.11,348.42 L316.91,348.40 L317.71,348.38 L318.51,348.36 L319.31,348.35 L320.11,348.33 L320.91,348.31 L321.71,348.30 L322.51,348.28 L323.31,348.27 L324.10,348.25 L324.90,348.23 L325.70,348.22 L326.50,348.20" stroke="#000" stroke-width="1.08" fill="none"/>
<rect x="109.65" y="294.50" width="216.85" height="161.90" fill="none" stroke="#000" stroke-width="1.3" stroke-linejoin="round"/>
<path d="M115.67,456.40v-2.7M115.67,294.50v2.7 M130.73,456.40v-2.7M130.73,294.50v2.7 M145.79,456.40v-5.3M145.79,294.50v5.3 M160.85,456.40v-2.7M160.85,294.50v2.7 M175.91,456.40v-2.7M175.91,294.50v2.7 M190.97,456.40v-2.7M190.97,294.50v2.7 M206.03,456.40v-5.3M206.03,294.50v5.3 M221.09,456.40v-2.7M221.09,294.50v2.7 M236.15,456.40v-2.7M236.15,294.50v2.7 M251.20,456.40v-2.7M251.20,294.50v2.7 M266.26,456.40v-5.3M266.26,294.50v5.3 M281.32,456.40v-2.7M281.32,294.50v2.7 M296.38,456.40v-2.7M296.38,294.50v2.7 M311.44,456.40v-2.7M311.44,294.50v2.7 M326.50,456.40v-5.3M326.50,294.50v5.3 M109.65,456.40h5.3M326.50,456.40h-5.3 M109.65,446.28h2.7M326.50,446.28h-2.7 M109.65,436.16h2.7M326.50,436.16h-2.7 M109.65,426.04h2.7M326.50,426.04h-2.7 M109.65,415.92h5.3M326.50,415.92h-5.3 M109.65,405.81h2.7M326.50,405.81h-2.7 M109.65,395.69h2.7M326.50,395.69h-2.7 M109.65,385.57h2.7M326.50,385.57h-2.7 M109.65,375.45h5.3M326.50,375.45h-5.3 M109.65,365.33h2.7M326.50,365.33h-2.7 M109.65,355.21h2.7M326.50,355.21h-2.7 M109.65,345.09h2.7M326.50,345.09h-2.7 M109.65,334.98h5.3M326.50,334.98h-5.3 M109.65,324.86h2.7M326.50,324.86h-2.7 M109.65,314.74h2.7M326.50,314.74h-2.7 M109.65,304.62h2.7M326.50,304.62h-2.7 M109.65,294.50h5.3M326.50,294.50h-5.3" stroke="#000" stroke-width="1.15" fill="none"/>
<text x="144.99" y="470.70" font-size="11" fill="#000" text-anchor="middle" textLength="20.40" lengthAdjust="spacingAndGlyphs" >200</text>
<text x="205.23" y="470.70" font-size="11" fill="#000" text-anchor="middle" textLength="20.40" lengthAdjust="spacingAndGlyphs" >300</text>
<text x="265.46" y="470.70" font-size="11" fill="#000" text-anchor="middle" textLength="20.40" lengthAdjust="spacingAndGlyphs" >400</text>
<text x="325.70" y="470.70" font-size="11" fill="#000" text-anchor="middle" textLength="20.40" lengthAdjust="spacingAndGlyphs" >500</text>
<text x="101.65" y="298.50" font-size="11" fill="#000" text-anchor="end" textLength="6.75" lengthAdjust="spacingAndGlyphs" >2</text>
<text x="102.45" y="338.98" font-size="11" fill="#000" text-anchor="end" textLength="5.60" lengthAdjust="spacingAndGlyphs" >1</text>
<text x="101.65" y="379.45" font-size="11" fill="#000" text-anchor="end" textLength="6.75" lengthAdjust="spacingAndGlyphs" >0</text>
<text x="102.45" y="419.92" font-size="11" fill="#000" text-anchor="end" textLength="13.60" lengthAdjust="spacingAndGlyphs" >−1</text>
<text x="101.65" y="460.40" font-size="11" fill="#000" text-anchor="end" textLength="14.75" lengthAdjust="spacingAndGlyphs" >−2</text>
<text x="195.68" y="481.70" font-size="12" fill="#000" text-anchor="start" textLength="6.00" lengthAdjust="spacingAndGlyphs" >E</text>
<text x="202.88" y="484.70" font-size="7.5" fill="#000" text-anchor="start" textLength="4.40" lengthAdjust="spacingAndGlyphs" stroke="#000" stroke-width="0.2">γ</text>
<text x="207.47" y="481.70" font-size="12" fill="#000" text-anchor="start" textLength="30.80" lengthAdjust="spacingAndGlyphs" >(MeV)</text>
</g>
<g id="p4">
<line x1="395.05" y1="335.25" x2="622.00" y2="335.25" stroke="#000" stroke-width="1.25" stroke-dasharray="2.1 4.2" stroke-dashoffset="0.7"/>
<path d="M399.45,372.20h3.8M399.45,381.00h3.8M401.35,372.20V374.70M401.35,378.50V381.00" stroke="#00f" stroke-width="1.1" fill="none"/>
<circle cx="401.35" cy="376.60" r="1.6" stroke="#00f" stroke-width="1.12" fill="none"/>
<path d="M405.76,381.00h3.8M405.76,393.80h3.8M407.66,381.00V385.50M407.66,389.30V393.80" stroke="#00f" stroke-width="1.1" fill="none"/>
<circle cx="407.66" cy="387.40" r="1.6" stroke="#00f" stroke-width="1.12" fill="none"/>
<path d="M412.06,404.20h3.8M412.06,421.00h3.8M413.96,404.20V410.70M413.96,414.50V421.00" stroke="#00f" stroke-width="1.1" fill="none"/>
<circle cx="413.96" cy="412.60" r="1.6" stroke="#00f" stroke-width="1.12" fill="none"/>
<path d="M418.37,416.40h3.8M418.37,434.40h3.8M420.27,416.40V423.50M420.27,427.30V434.40" stroke="#00f" stroke-width="1.1" fill="none"/>
<circle cx="420.27" cy="425.40" r="1.6" stroke="#00f" stroke-width="1.12" fill="none"/>
<path d="M424.67,409.00h3.8M424.67,429.00h3.8M426.57,409.00V417.10M426.57,420.90V429.00" stroke="#00f" stroke-width="1.1" fill="none"/>
<circle cx="426.57" cy="419.00" r="1.6" stroke="#00f" stroke-width="1.12" fill="none"/>
<path d="M430.98,408.00h3.8M430.98,426.00h3.8M432.88,408.00V415.10M432.88,418.90V426.00" stroke="#00f" stroke-width="1.1" fill="none"/>
<circle cx="432.88" cy="417.00" r="1.6" stroke="#00f" stroke-width="1.12" fill="none"/>
<path d="M437.28,414.00h3.8M437.28,425.20h3.8M439.18,414.00V417.70M439.18,421.50V425.20" stroke="#00f" stroke-width="1.1" fill="none"/>
<circle cx="439.18" cy="419.60" r="1.6" stroke="#00f" stroke-width="1.12" fill="none"/>
<path d="M443.58,405.00h3.8M443.58,413.80h3.8M445.48,405.00V407.50M445.48,411.30V413.80" stroke="#00f" stroke-width="1.1" fill="none"/>
<circle cx="445.48" cy="409.40" r="1.6" stroke="#00f" stroke-width="1.12" fill="none"/>
<path d="M449.89,402.60h3.8M449.89,418.60h3.8M451.79,402.60V408.70M451.79,412.50V418.60" stroke="#00f" stroke-width="1.1" fill="none"/>
<circle cx="451.79" cy="410.60" r="1.6" stroke="#00f" stroke-width="1.12" fill="none"/>
<path d="M456.19,410.60h3.8M456.19,419.40h3.8M458.09,410.60V413.10M458.09,416.90V419.40" stroke="#00f" stroke-width="1.1" fill="none"/>
<circle cx="458.09" cy="415.00" r="1.6" stroke="#00f" stroke-width="1.12" fill="none"/>
<path d="M462.50,408.80h3.8M462.50,417.60h3.8M464.40,408.80V411.30M464.40,415.10V417.60" stroke="#00f" stroke-width="1.1" fill="none"/>
<circle cx="464.40" cy="413.20" r="1.6" stroke="#00f" stroke-width="1.12" fill="none"/>
<path d="M468.80,411.20h3.8M468.80,417.20h3.8M470.70,411.20V412.30M470.70,416.10V417.20" stroke="#00f" stroke-width="1.1" fill="none"/>
<circle cx="470.70" cy="414.20" r="1.6" stroke="#00f" stroke-width="1.12" fill="none"/>
<path d="M475.10,396.00h3.8M475.10,404.00h3.8M477.00,396.00V398.10M477.00,401.90V404.00" stroke="#00f" stroke-width="1.1" fill="none"/>
<circle cx="477.00" cy="400.00" r="1.6" stroke="#00f" stroke-width="1.12" fill="none"/>
<path d="M481.41,407.00h3.8M481.41,411.80h3.8M483.31,407.00V407.50M483.31,411.30V411.80" stroke="#00f" stroke-width="1.1" fill="none"/>
<circle cx="483.31" cy="409.40" r="1.6" stroke="#00f" stroke-width="1.12" fill="none"/>
<path d="M487.71,396.80h3.8M487.71,402.80h3.8M489.61,396.80V397.90M489.61,401.70V402.80" stroke="#00f" stroke-width="1.1" fill="none"/>
<circle cx="489.61" cy="399.80" r="1.6" stroke="#00f" stroke-width="1.12" fill="none"/>
<path d="M494.02,385.00h3.8M494.02,387.00h3.8" stroke="#00f" stroke-width="1.1" fill="none"/>
<circle cx="495.92" cy="386.00" r="1.6" stroke="#00f" stroke-width="1.12" fill="none"/>
<circle cx="502.22" cy="368.50" r="1.6" stroke="#00f" stroke-width="1.12" fill="none"/>
<circle cx="508.52" cy="355.80" r="1.6" stroke="#00f" stroke-width="1.12" fill="none"/>
<circle cx="514.83" cy="343.00" r="1.6" stroke="#00f" stroke-width="1.12" fill="none"/>
<circle cx="521.13" cy="335.40" r="1.6" stroke="#00f" stroke-width="1.12" fill="none"/>
<circle cx="527.44" cy="332.30" r="1.6" stroke="#00f" stroke-width="1.12" fill="none"/>
<circle cx="533.74" cy="332.00" r="1.6" stroke="#00f" stroke-width="1.12" fill="none"/>
<circle cx="540.05" cy="335.20" r="1.6" stroke="#00f" stroke-width="1.12" fill="none"/>
<path d="M544.45,334.80h3.8M544.45,338.00h3.8" stroke="#00f" stroke-width="1.1" fill="none"/>
<circle cx="546.35" cy="336.40" r="1.6" stroke="#00f" stroke-width="1.12" fill="none"/>
<path d="M550.75,345.60h3.8M550.75,348.80h3.8" stroke="#00f" stroke-width="1.1" fill="none"/>
<circle cx="552.65" cy="347.20" r="1.6" stroke="#00f" stroke-width="1.12" fill="none"/>
<path d="M557.06,343.00h3.8M557.06,347.00h3.8" stroke="#00f" stroke-width="1.1" fill="none"/>
<circle cx="558.96" cy="345.00" r="1.6" stroke="#00f" stroke-width="1.12" fill="none"/>
<path d="M563.36,340.60h3.8M563.36,345.80h3.8M565.26,340.60V341.30M565.26,345.10V345.80" stroke="#00f" stroke-width="1.1" fill="none"/>
<circle cx="565.26" cy="343.20" r="1.6" stroke="#00f" stroke-width="1.12" fill="none"/>
<path d="M569.67,345.40h3.8M569.67,350.60h3.8M571.57,345.40V346.10M571.57,349.90V350.60" stroke="#00f" stroke-width="1.1" fill="none"/>
<circle cx="571.57" cy="348.00" r="1.6" stroke="#00f" stroke-width="1.12" fill="none"/>
<path d="M575.97,355.60h3.8M575.97,363.60h3.8M577.87,355.60V357.70M577.87,361.50V363.60" stroke="#00f" stroke-width="1.1" fill="none"/>
<circle cx="577.87" cy="359.60" r="1.6" stroke="#00f" stroke-width="1.12" fill="none"/>
<path d="M582.27,335.60h3.8M582.27,350.40h3.8M584.17,335.60V341.10M584.17,344.90V350.40" stroke="#00f" stroke-width="1.1" fill="none"/>
<circle cx="584.17" cy="343.00" r="1.6" stroke="#00f" stroke-width="1.12" fill="none"/>
<path d="M588.58,348.60h3.8M588.58,355.40h3.8M590.48,348.60V350.10M590.48,353.90V355.40" stroke="#00f" stroke-width="1.1" fill="none"/>
<circle cx="590.48" cy="352.00" r="1.6" stroke="#00f" stroke-width="1.12" fill="none"/>
<path d="M594.88,372.40h3.8M594.88,389.60h3.8M596.78,372.40V379.10M596.78,382.90V389.60" stroke="#00f" stroke-width="1.1" fill="none"/>
<circle cx="596.78" cy="381.00" r="1.6" stroke="#00f" stroke-width="1.12" fill="none"/>
<path d="M594.88,382.60h3.8M594.88,397.40h3.8M596.78,382.60V388.10M596.78,391.90V397.40" stroke="#00f" stroke-width="1.1" fill="none"/>
<circle cx="596.78" cy="390.00" r="1.6" stroke="#00f" stroke-width="1.12" fill="none"/>
<path d="M607.49,377.40h3.8M607.49,399.40h3.8M609.39,377.40V386.50M609.39,390.30V399.40" stroke="#00f" stroke-width="1.1" fill="none"/>
<circle cx="609.39" cy="388.40" r="1.6" stroke="#00f" stroke-width="1.12" fill="none"/>
<path d="M620.10,371.00h3.8M620.10,385.00h3.8M622.00,371.00V376.10M622.00,379.90V385.00" stroke="#00f" stroke-width="1.1" fill="none"/>
<circle cx="622.00" cy="378.00" r="1.6" stroke="#00f" stroke-width="1.12" fill="none"/>
<path d="M395.10,378.60 L401.40,378.60 L401.40,378.60 L401.77,379.30 L402.13,380.01 L402.48,380.73 L402.82,381.45 L403.16,382.17 L403.50,382.90 L403.83,383.63 L404.16,384.36 L404.50,385.08 L404.84,385.81 L405.18,386.53 L405.53,387.25 L405.89,387.96 L406.26,388.67 L406.64,389.37 L407.03,390.06 L407.44,390.74 L407.87,391.42 L408.31,392.08 L408.76,392.73 L409.23,393.37 L409.72,394.00 L410.21,394.63 L410.71,395.25 L411.23,395.86 L411.75,396.47 L412.28,397.07 L412.81,397.67 L413.34,398.27 L413.88,398.87 L414.42,399.46 L414.96,400.06 L415.51,400.65 L416.06,401.23 L416.62,401.80 L417.18,402.37 L417.76,402.92 L418.34,403.46 L418.94,403.99 L419.55,404.50 L420.18,404.98 L420.82,405.45 L421.48,405.90 L422.15,406.33 L422.83,406.74 L423.53,407.14 L424.23,407.52 L424.94,407.89 L425.66,408.25 L426.39,408.59 L427.11,408.93 L427.85,409.25 L428.59,409.56 L429.33,409.86 L430.08,410.14 L430.83,410.41 L431.59,410.65 L432.35,410.88 L433.12,411.08 L433.89,411.26 L434.67,411.42 L435.46,411.56 L436.25,411.69 L437.04,411.80 L437.84,411.89 L438.63,411.97 L439.43,412.04 L440.23,412.09 L441.03,412.13 L441.83,412.15 L442.63,412.16 L443.43,412.14 L444.23,412.10 L445.02,412.04 L445.81,411.95 L446.60,411.83 L447.38,411.69 L448.16,411.53 L448.94,411.35 L449.72,411.16 L450.49,410.95 L451.27,410.75 L452.04,410.53 L452.81,410.32 L453.58,410.10 L454.35,409.88 L455.11,409.64 L455.87,409.39 L456.62,409.13 L457.37,408.85 L458.11,408.56 L458.84,408.24 L459.56,407.90 L460.27,407.54 L460.97,407.16 L461.67,406.76 L462.36,406.35 L463.03,405.92 L463.70,405.48 L464.36,405.03 L465.01,404.56 L465.65,404.08 L466.28,403.59 L466.90,403.08 L467.51,402.57 L468.11,402.04 L468.70,401.50 L469.28,400.95 L469.85,400.39 L470.40,399.81 L470.94,399.23 L471.47,398.63 L471.99,398.03 L472.50,397.41 L472.99,396.78 L473.48,396.15 L473.96,395.51 L474.43,394.86 L474.89,394.21 L475.34,393.55 L475.79,392.88 L476.22,392.22 L476.66,391.54 L477.08,390.87 L477.51,390.19 L477.92,389.50 L478.34,388.82 L478.74,388.13 L479.15,387.44 L479.54,386.75 L479.94,386.06 L480.33,385.36 L480.72,384.67 L481.10,383.97 L481.48,383.27 L481.86,382.56 L482.23,381.86 L482.60,381.15 L482.97,380.45 L483.34,379.74 L483.70,379.03 L484.06,378.31 L484.42,377.60 L484.78,376.89 L485.14,376.18 L485.49,375.46 L485.85,374.75 L486.21,374.04 L486.57,373.32 L486.93,372.61 L487.29,371.90 L487.65,371.19 L488.02,370.48 L488.39,369.77 L488.76,369.07 L489.13,368.36 L489.51,367.66 L489.90,366.96 L490.28,366.26 L490.67,365.57 L491.07,364.87 L491.47,364.18 L491.87,363.49 L492.27,362.80 L492.67,362.11 L493.08,361.43 L493.48,360.74 L493.89,360.05 L494.30,359.37 L494.71,358.68 L495.11,358.00 L495.52,357.31 L495.93,356.62 L496.33,355.94 L496.73,355.25 L497.14,354.56 L497.54,353.88 L497.94,353.19 L498.35,352.50 L498.76,351.82 L499.17,351.14 L499.59,350.46 L500.02,349.78 L500.44,349.11 L500.88,348.44 L501.32,347.77 L501.77,347.11 L502.23,346.45 L502.70,345.80 L503.18,345.15 L503.67,344.52 L504.18,343.89 L504.69,343.27 L505.22,342.67 L505.77,342.08 L506.32,341.51 L506.90,340.95 L507.49,340.42 L508.09,339.90 L508.72,339.41 L509.36,338.94 L510.02,338.50 L510.69,338.08 L511.38,337.67 L512.08,337.29 L512.79,336.92 L513.52,336.57 L514.25,336.24 L514.99,335.92 L515.74,335.61 L516.50,335.33 L517.26,335.07 L518.03,334.84 L518.81,334.64 L519.59,334.48 L520.38,334.37 L521.17,334.30 L521.97,334.29 L522.77,334.33 L523.56,334.42 L524.36,334.56 L525.15,334.74 L525.92,334.96 L526.69,335.23 L527.43,335.53 L528.16,335.86 L528.87,336.23 L529.56,336.63 L530.24,337.05 L530.91,337.49 L531.57,337.94 L532.21,338.41 L532.86,338.89 L533.50,339.37 L534.14,339.85 L534.77,340.34 L535.41,340.82 L536.05,341.30 L536.69,341.77 L537.33,342.25 L537.96,342.73 L538.60,343.21 L539.24,343.68 L539.88,344.16 L540.52,344.64 L541.16,345.11 L541.80,345.59 L542.44,346.07 L543.08,346.54 L543.72,347.02 L544.36,347.49 L545.00,347.97 L545.64,348.44 L546.29,348.92 L546.93,349.39 L547.57,349.86 L548.22,350.33 L548.86,350.80 L549.51,351.27 L550.15,351.74 L550.80,352.20 L551.45,352.66 L552.11,353.12 L552.76,353.57 L553.42,354.03 L554.08,354.47 L554.75,354.92 L555.41,355.36 L556.08,355.79 L556.75,356.22 L557.43,356.64 L558.11,357.06 L558.79,357.48 L559.48,357.88 L560.17,358.28 L560.86,358.68 L561.56,359.07 L562.26,359.45 L562.96,359.83 L563.66,360.20 L564.37,360.57 L565.08,360.94 L565.79,361.30 L566.51,361.66 L567.22,362.01 L567.94,362.36 L568.66,362.70 L569.39,363.04 L570.11,363.36 L570.85,363.68 L571.58,363.99 L572.32,364.29 L573.06,364.59 L573.81,364.87 L574.55,365.16 L575.30,365.44 L576.05,365.72 L576.79,366.00 L577.53,366.29 L578.27,366.59 L579.01,366.89 L579.75,367.20 L580.48,367.52 L581.21,367.84 L581.94,368.17 L582.67,368.49 L583.39,368.83 L584.12,369.16 L584.84,369.50 L585.57,369.84 L586.29,370.17 L587.02,370.50 L587.75,370.83 L588.48,371.15 L589.21,371.45 L589.95,371.75 L590.70,372.04 L591.45,372.31 L592.20,372.56 L592.96,372.81 L593.72,373.04 L594.49,373.27 L595.25,373.50 L596.02,373.72 L596.79,373.94 L597.56,374.16 L598.32,374.38 L599.09,374.60 L599.86,374.83 L600.62,375.05 L601.39,375.27 L602.16,375.50 L602.92,375.72 L603.69,375.94 L604.46,376.16 L605.22,376.38 L605.99,376.60 L606.76,376.82 L607.52,377.03 L608.29,377.24 L609.06,377.45 L609.83,377.66 L610.60,377.87 L611.37,378.07 L612.14,378.26 L612.92,378.46 L613.69,378.65 L614.47,378.83 L615.24,379.01 L616.02,379.19 L616.80,379.36 L617.58,379.53 L618.36,379.69 L619.15,379.84 L619.93,379.99 L620.72,380.13 L621.51,380.27 L622.30,380.40" stroke="#000" stroke-width="1.08" fill="none" stroke-dasharray="8.4 6.8" stroke-dashoffset="4.0"/>
<line x1="395.1" y1="378.6" x2="401.8" y2="378.6" stroke="#000" stroke-width="1.08"/>
<path d="M395.10,335.00 L395.23,335.79 L395.36,336.58 L395.49,337.36 L395.62,338.15 L395.74,338.94 L395.87,339.73 L395.99,340.52 L396.12,341.31 L396.24,342.09 L396.36,342.88 L396.48,343.67 L396.61,344.46 L396.73,345.25 L396.85,346.04 L396.97,346.83 L397.10,347.62 L397.22,348.41 L397.34,349.20 L397.47,349.98 L397.60,350.77 L397.72,351.56 L397.85,352.35 L397.98,353.14 L398.11,353.92 L398.24,354.71 L398.38,355.50 L398.51,356.29 L398.65,357.07 L398.79,357.86 L398.93,358.64 L399.08,359.43 L399.23,360.21 L399.38,361.00 L399.53,361.78 L399.68,362.57 L399.83,363.35 L399.99,364.13 L400.15,364.92 L400.31,365.70 L400.47,366.48 L400.63,367.26 L400.79,368.05 L400.95,368.83 L401.11,369.61 L401.27,370.39 L401.44,371.17 L401.60,371.95 L401.76,372.73 L401.92,373.52 L402.08,374.30 L402.25,375.08 L402.41,375.86 L402.58,376.64 L402.75,377.42 L402.91,378.20 L403.08,378.98 L403.26,379.76 L403.43,380.54 L403.61,381.32 L403.79,382.10 L403.97,382.88 L404.16,383.66 L404.35,384.43 L404.54,385.21 L404.74,385.99 L404.94,386.76 L405.15,387.53 L405.36,388.30 L405.58,389.07 L405.81,389.84 L406.04,390.60 L406.29,391.36 L406.54,392.12 L406.80,392.87 L407.07,393.62 L407.35,394.37 L407.64,395.11" stroke="#f00" stroke-width="1.08" fill="none" stroke-dasharray="6.2 4 1.3 4" stroke-dashoffset="-1.7"/>
<path d="M407.64,395.11 L407.95,395.85 L408.26,396.58 L408.58,397.31 L408.92,398.03 L409.26,398.75 L409.62,399.47 L409.98,400.18 L410.35,400.88 L410.73,401.59 L411.12,402.29 L411.52,402.98 L411.92,403.67 L412.33,404.36 L412.75,405.05 L413.18,405.73 L413.61,406.40 L414.05,407.08 L414.50,407.75 L414.95,408.42 L415.41,409.08 L415.88,409.73 L416.36,410.37 L416.86,411.01 L417.36,411.63 L417.88,412.24 L418.41,412.83 L418.96,413.41 L419.52,413.97 L420.10,414.51 L420.70,415.03 L421.32,415.54 L421.95,416.02 L422.59,416.49 L423.24,416.95 L423.91,417.40 L424.58,417.84 L425.25,418.27 L425.93,418.71 L426.61,419.13 L427.29,419.56 L427.97,419.98 L428.66,420.40 L429.35,420.81 L430.04,421.21 L430.74,421.59 L431.44,421.96 L432.16,422.31 L432.88,422.64 L433.62,422.94 L434.36,423.23 L435.12,423.49 L435.88,423.74 L436.64,423.97 L437.41,424.19 L438.19,424.40 L438.97,424.59 L439.74,424.78 L440.52,424.95 L441.30,425.12 L442.09,425.27 L442.87,425.42 L443.66,425.55 L444.45,425.67 L445.24,425.78 L446.04,425.88 L446.83,425.96 L447.63,426.02 L448.43,426.06 L449.23,426.09 L450.03,426.09 L450.83,426.07 L451.63,426.01 L452.42,425.94 L453.21,425.83 L454.00,425.69 L454.78,425.53 L455.56,425.35 L456.34,425.14 L457.10,424.90 L457.86,424.65 L458.62,424.37 L459.36,424.08 L460.10,423.76 L460.83,423.43 L461.54,423.07 L462.25,422.70 L462.95,422.31 L463.63,421.89 L464.31,421.46 L464.97,421.01 L465.62,420.55 L466.25,420.06 L466.88,419.56 L467.49,419.05 L468.09,418.51 L468.67,417.97 L469.25,417.41 L469.81,416.84 L470.36,416.26 L470.90,415.67 L471.43,415.06 L471.94,414.45 L472.44,413.83 L472.93,413.20 L473.41,412.56 L473.88,411.91 L474.34,411.25 L474.79,410.59 L475.23,409.92 L475.66,409.25 L476.08,408.57 L476.49,407.88 L476.89,407.19 L477.29,406.49 L477.67,405.79 L478.05,405.09 L478.42,404.38 L478.78,403.67 L479.14,402.96 L479.49,402.24 L479.84,401.52 L480.18,400.80 L480.52,400.07 L480.85,399.35 L481.18,398.62 L481.50,397.89 L481.83,397.16 L482.15,396.43 L482.47,395.69 L482.79,394.96 L483.10,394.23 L483.42,393.49 L483.73,392.76 L484.05,392.03 L484.37,391.29 L484.68,390.56 L485.00,389.82 L485.31,389.09 L485.63,388.36 L485.94,387.62 L486.25,386.89 L486.57,386.15 L486.88,385.42 L487.19,384.69 L487.51,383.95 L487.82,383.22 L488.13,382.48 L488.44,381.75 L488.75,381.01 L489.06,380.28 L489.37,379.54 L489.68,378.80 L489.99,378.07 L490.30,377.33 L490.61,376.60 L490.92,375.86 L491.23,375.13 L491.54,374.39 L491.85,373.65 L492.16,372.92 L492.47,372.18 L492.78,371.45 L493.09,370.71 L493.40,369.98 L493.72,369.24 L494.03,368.51 L494.35,367.78 L494.67,367.04 L494.98,366.31 L495.30,365.58 L495.63,364.85 L495.95,364.12 L496.27,363.39 L496.60,362.66 L496.93,361.93 L497.26,361.20 L497.60,360.48 L497.93,359.75 L498.28,359.03 L498.62,358.31 L498.97,357.59 L499.32,356.88 L499.68,356.16 L500.05,355.45 L500.41,354.74 L500.79,354.04 L501.17,353.34 L501.55,352.64 L501.95,351.94 L502.35,351.25 L502.75,350.56 L503.17,349.88 L503.59,349.20 L504.02,348.52 L504.46,347.85 L504.91,347.19 L505.37,346.54 L505.83,345.89 L506.31,345.25 L506.81,344.62 L507.31,343.99 L507.82,343.38 L508.35,342.78 L508.89,342.18 L509.44,341.60 L510.01,341.03 L510.59,340.48 L511.18,339.94 L511.79,339.41 L512.41,338.90 L513.04,338.41 L513.69,337.94 L514.34,337.49 L515.01,337.07 L515.70,336.66 L516.40,336.28 L517.10,335.92 L517.83,335.58 L518.56,335.26 L519.30,334.96 L520.06,334.68 L520.83,334.42 L521.60,334.18 L522.39,333.96 L523.19,333.77 L523.98,333.61 L524.78,333.50 L525.58,333.43 L526.37,333.41 L527.16,333.45 L527.94,333.55 L528.71,333.72 L529.47,333.95 L530.22,334.22 L530.96,334.54 L531.69,334.88 L532.42,335.25 L533.13,335.64 L533.85,336.03 L534.56,336.42 L535.26,336.81 L535.96,337.20 L536.66,337.59 L537.35,337.98 L538.04,338.37 L538.73,338.76 L539.42,339.15 L540.11,339.55 L540.80,339.94 L541.49,340.34 L542.18,340.74 L542.87,341.14 L543.56,341.54 L544.26,341.94 L544.95,342.35 L545.64,342.75 L546.32,343.16 L547.01,343.56 L547.70,343.97 L548.39,344.38 L549.07,344.79 L549.76,345.20 L550.44,345.60 L551.13,346.01 L551.82,346.42 L552.50,346.83 L553.19,347.23 L553.88,347.63 L554.57,348.04 L555.26,348.44 L555.95,348.84 L556.64,349.24 L557.33,349.64 L558.02,350.04 L558.72,350.44 L559.41,350.83 L560.10,351.23 L560.80,351.63 L561.49,352.02 L562.19,352.41 L562.89,352.79 L563.59,353.17 L564.30,353.54 L565.01,353.90 L565.72,354.26 L566.44,354.61 L567.17,354.95 L567.89,355.28 L568.62,355.62 L569.34,355.95 L570.07,356.28 L570.79,356.62 L571.51,356.96 L572.23,357.31 L572.95,357.66 L573.67,358.01 L574.38,358.37 L575.10,358.72 L575.82,359.07 L576.54,359.42 L577.26,359.75 L577.99,360.08 L578.72,360.40 L579.45,360.71 L580.19,361.01 L580.93,361.31 L581.68,361.60 L582.42,361.90 L583.16,362.19 L583.91,362.48 L584.65,362.78 L585.39,363.08 L586.12,363.39 L586.86,363.69 L587.60,364.00 L588.34,364.30 L589.08,364.60 L589.82,364.90 L590.56,365.19 L591.31,365.47 L592.06,365.75 L592.81,366.02 L593.56,366.29 L594.31,366.56 L595.07,366.82 L595.82,367.09 L596.57,367.35 L597.33,367.61 L598.08,367.88 L598.83,368.15 L599.58,368.42 L600.34,368.69 L601.09,368.96 L601.84,369.23 L602.59,369.50 L603.34,369.77 L604.09,370.04 L604.84,370.31 L605.59,370.58 L606.35,370.85 L607.10,371.12 L607.85,371.38 L608.60,371.65 L609.36,371.91 L610.11,372.18 L610.86,372.44 L611.62,372.70 L612.37,372.95 L613.13,373.21 L613.89,373.46 L614.65,373.71 L615.41,373.96 L616.17,374.20 L616.93,374.44 L617.69,374.67 L618.46,374.90 L619.22,375.13 L619.99,375.36 L620.76,375.58 L621.53,375.79 L622.30,376.00" stroke="#f00" stroke-width="1.08" fill="none" stroke-dasharray="6.2 4 1.3 4" stroke-dashoffset="8.99"/>
<path d="M395.10,375.00 L401.40,375.00 L401.40,375.00 L401.64,375.76 L401.88,376.52 L402.12,377.29 L402.37,378.05 L402.61,378.81 L402.86,379.57 L403.11,380.33 L403.36,381.09 L403.61,381.84 L403.87,382.60 L404.12,383.36 L404.38,384.11 L404.64,384.87 L404.90,385.62 L405.16,386.38 L405.43,387.13 L405.70,387.89 L405.97,388.64 L406.24,389.39 L406.52,390.14 L406.80,390.89 L407.08,391.64 L407.36,392.38 L407.65,393.13 L407.94,393.88 L408.23,394.62 L408.53,395.36 L408.83,396.10 L409.13,396.84 L409.44,397.58 L409.76,398.32 L410.07,399.05 L410.40,399.78 L410.73,400.51 L411.06,401.24 L411.40,401.96 L411.75,402.68 L412.10,403.40 L412.46,404.12 L412.82,404.83 L413.20,405.53 L413.58,406.24 L413.96,406.94 L414.36,407.63 L414.77,408.32 L415.18,409.01 L415.60,409.69 L416.03,410.37 L416.47,411.04 L416.92,411.70 L417.37,412.36 L417.84,413.01 L418.32,413.65 L418.80,414.28 L419.30,414.91 L419.81,415.53 L420.32,416.14 L420.85,416.74 L421.39,417.34 L421.93,417.92 L422.49,418.50 L423.06,419.06 L423.64,419.61 L424.23,420.16 L424.82,420.69 L425.43,421.21 L426.05,421.72 L426.68,422.22 L427.31,422.70 L427.96,423.18 L428.61,423.64 L429.27,424.09 L429.94,424.52 L430.62,424.95 L431.31,425.36 L432.00,425.76 L432.70,426.15 L433.41,426.52 L434.12,426.88 L434.84,427.23 L435.56,427.57 L436.29,427.89 L437.03,428.21 L437.77,428.52 L438.51,428.81 L439.26,429.10 L440.01,429.37 L440.76,429.64 L441.52,429.90 L442.28,430.14 L443.05,430.37 L443.82,430.59 L444.59,430.80 L445.36,430.99 L446.14,431.17 L446.93,431.33 L447.71,431.48 L448.50,431.61 L449.29,431.72 L450.09,431.83 L450.88,431.92 L451.68,431.99 L452.48,432.05 L453.28,432.09 L454.08,432.12 L454.88,432.14 L455.68,432.13 L456.47,432.10 L457.27,432.06 L458.07,431.99 L458.87,431.90 L459.66,431.79 L460.45,431.66 L461.24,431.50 L462.02,431.32 L462.79,431.12 L463.56,430.89 L464.32,430.63 L465.07,430.35 L465.80,430.04 L466.53,429.71 L467.25,429.36 L467.96,428.99 L468.66,428.60 L469.35,428.19 L470.03,427.77 L470.71,427.33 L471.37,426.88 L472.02,426.41 L472.67,425.93 L473.30,425.44 L473.92,424.93 L474.53,424.41 L475.12,423.87 L475.71,423.32 L476.27,422.76 L476.83,422.19 L477.37,421.60 L477.89,420.99 L478.40,420.38 L478.89,419.75 L479.38,419.11 L479.84,418.46 L480.30,417.80 L480.75,417.14 L481.18,416.46 L481.60,415.78 L482.02,415.09 L482.42,414.40 L482.82,413.70 L483.20,413.00 L483.58,412.29 L483.95,411.58 L484.32,410.87 L484.67,410.15 L485.02,409.43 L485.37,408.71 L485.71,407.99 L486.04,407.26 L486.38,406.53 L486.70,405.80 L487.02,405.07 L487.34,404.34 L487.66,403.61 L487.97,402.87 L488.29,402.14 L488.60,401.40 L488.90,400.66 L489.21,399.93 L489.52,399.19 L489.83,398.45 L490.14,397.72 L490.44,396.98 L490.75,396.24 L491.06,395.50 L491.36,394.76 L491.67,394.03 L491.97,393.29 L492.28,392.55 L492.58,391.81 L492.88,391.07 L493.18,390.33 L493.48,389.58 L493.77,388.84 L494.07,388.10 L494.36,387.35 L494.65,386.61 L494.93,385.86 L495.22,385.12 L495.50,384.37 L495.77,383.62 L496.05,382.87 L496.32,382.11 L496.59,381.36 L496.86,380.61 L497.12,379.85 L497.38,379.09 L497.65,378.34 L497.91,377.58 L498.17,376.83 L498.43,376.07 L498.69,375.31 L498.96,374.56 L499.22,373.80 L499.49,373.05 L499.76,372.30 L500.03,371.55 L500.31,370.80 L500.59,370.05 L500.87,369.30 L501.16,368.56 L501.45,367.82 L501.75,367.08 L502.06,366.34 L502.37,365.61 L502.68,364.88 L503.01,364.15 L503.34,363.42 L503.67,362.70 L504.01,361.98 L504.35,361.26 L504.69,360.54 L505.04,359.82 L505.39,359.10 L505.74,358.38 L506.09,357.66 L506.45,356.94 L506.80,356.23 L507.15,355.51 L507.50,354.79 L507.85,354.06 L508.20,353.34 L508.54,352.62 L508.89,351.89 L509.23,351.16 L509.57,350.44 L509.91,349.71 L510.25,348.98 L510.59,348.26 L510.95,347.54 L511.30,346.82 L511.67,346.11 L512.04,345.40 L512.43,344.70 L512.82,344.01 L513.23,343.32 L513.66,342.65 L514.10,341.98 L514.56,341.33 L515.04,340.69 L515.53,340.06 L516.05,339.44 L516.58,338.85 L517.14,338.26 L517.71,337.70 L518.31,337.16 L518.92,336.64 L519.55,336.14 L520.20,335.66 L520.87,335.21 L521.55,334.79 L522.26,334.39 L522.98,334.03 L523.71,333.69 L524.46,333.40 L525.22,333.14 L525.99,332.92 L526.78,332.74 L527.57,332.60 L528.36,332.52 L529.16,332.47 L529.97,332.47 L530.77,332.51 L531.57,332.59 L532.37,332.70 L533.16,332.85 L533.94,333.04 L534.71,333.25 L535.48,333.50 L536.23,333.77 L536.97,334.07 L537.71,334.38 L538.44,334.72 L539.16,335.07 L539.87,335.43 L540.58,335.80 L541.29,336.18 L541.99,336.57 L542.68,336.96 L543.37,337.36 L544.06,337.77 L544.75,338.18 L545.43,338.60 L546.11,339.02 L546.78,339.44 L547.46,339.87 L548.13,340.30 L548.81,340.73 L549.48,341.15 L550.16,341.58 L550.84,342.01 L551.52,342.43 L552.20,342.84 L552.88,343.25 L553.57,343.65 L554.27,344.05 L554.97,344.44 L555.67,344.82 L556.37,345.20 L557.07,345.58 L557.78,345.96 L558.49,346.33 L559.19,346.70 L559.90,347.08 L560.61,347.45 L561.32,347.82 L562.02,348.19 L562.73,348.55 L563.45,348.92 L564.16,349.28 L564.87,349.64 L565.59,349.99 L566.31,350.34 L567.03,350.69 L567.75,351.03 L568.47,351.37 L569.20,351.70 L569.93,352.04 L570.65,352.37 L571.38,352.70 L572.11,353.03 L572.84,353.36 L573.57,353.68 L574.30,354.01 L575.03,354.33 L575.76,354.65 L576.50,354.96 L577.24,355.27 L577.97,355.57 L578.72,355.87 L579.46,356.16 L580.20,356.46 L580.95,356.74 L581.69,357.03 L582.44,357.32 L583.18,357.61 L583.93,357.89 L584.67,358.19 L585.42,358.48 L586.16,358.77 L586.90,359.07 L587.65,359.36 L588.39,359.65 L589.14,359.94 L589.88,360.23 L590.63,360.51 L591.38,360.79 L592.13,361.06 L592.88,361.33 L593.63,361.60 L594.39,361.87 L595.14,362.14 L595.89,362.40 L596.65,362.67 L597.40,362.94 L598.15,363.22 L598.90,363.49 L599.65,363.77 L600.40,364.05 L601.15,364.33 L601.89,364.61 L602.64,364.89 L603.39,365.17 L604.14,365.46 L604.88,365.74 L605.63,366.02 L606.38,366.30 L607.13,366.58 L607.88,366.86 L608.63,367.14 L609.38,367.42 L610.13,367.69 L610.88,367.96 L611.63,368.23 L612.38,368.50 L613.13,368.77 L613.89,369.03 L614.65,369.28 L615.40,369.54 L616.16,369.79 L616.92,370.03 L617.69,370.27 L618.45,370.51 L619.22,370.74 L619.98,370.96 L620.75,371.18 L621.53,371.39 L622.30,371.60" stroke="#000" stroke-width="1.08" fill="none"/>
<rect x="395.05" y="294.50" width="226.95" height="161.90" fill="none" stroke="#000" stroke-width="1.3" stroke-linejoin="round"/>
<path d="M401.35,456.40v-2.7M401.35,294.50v2.7 M417.11,456.40v-2.7M417.11,294.50v2.7 M432.88,456.40v-5.3M432.88,294.50v5.3 M448.64,456.40v-2.7M448.64,294.50v2.7 M464.40,456.40v-2.7M464.40,294.50v2.7 M480.16,456.40v-2.7M480.16,294.50v2.7 M495.92,456.40v-5.3M495.92,294.50v5.3 M511.68,456.40v-2.7M511.68,294.50v2.7 M527.44,456.40v-2.7M527.44,294.50v2.7 M543.20,456.40v-2.7M543.20,294.50v2.7 M558.96,456.40v-5.3M558.96,294.50v5.3 M574.72,456.40v-2.7M574.72,294.50v2.7 M590.48,456.40v-2.7M590.48,294.50v2.7 M606.24,456.40v-2.7M606.24,294.50v2.7 M622.00,456.40v-5.3M622.00,294.50v5.3 M395.05,456.40h5.3M622.00,456.40h-5.3 M395.05,446.28h2.7M622.00,446.28h-2.7 M395.05,436.16h2.7M622.00,436.16h-2.7 M395.05,426.04h2.7M622.00,426.04h-2.7 M395.05,415.92h5.3M622.00,415.92h-5.3 M395.05,405.81h2.7M622.00,405.81h-2.7 M395.05,395.69h2.7M622.00,395.69h-2.7 M395.05,385.57h2.7M622.00,385.57h-2.7 M395.05,375.45h5.3M622.00,375.45h-5.3 M395.05,365.33h2.7M622.00,365.33h-2.7 M395.05,355.21h2.7M622.00,355.21h-2.7 M395.05,345.09h2.7M622.00,345.09h-2.7 M395.05,334.98h5.3M622.00,334.98h-5.3 M395.05,324.86h2.7M622.00,324.86h-2.7 M395.05,314.74h2.7M622.00,314.74h-2.7 M395.05,304.62h2.7M622.00,304.62h-2.7 M395.05,294.50h5.3M622.00,294.50h-5.3" stroke="#000" stroke-width="1.15" fill="none"/>
<text x="432.07" y="470.70" font-size="11" fill="#000" text-anchor="middle" textLength="20.40" lengthAdjust="spacingAndGlyphs" >200</text>
<text x="495.12" y="470.70" font-size="11" fill="#000" text-anchor="middle" textLength="20.40" lengthAdjust="spacingAndGlyphs" >300</text>
<text x="558.16" y="470.70" font-size="11" fill="#000" text-anchor="middle" textLength="20.40" lengthAdjust="spacingAndGlyphs" >400</text>
<text x="621.20" y="470.70" font-size="11" fill="#000" text-anchor="middle" textLength="20.40" lengthAdjust="spacingAndGlyphs" >500</text>
<text x="387.85" y="298.50" font-size="11" fill="#000" text-anchor="end" textLength="5.60" lengthAdjust="spacingAndGlyphs" >1</text>
<text x="387.05" y="338.98" font-size="11" fill="#000" text-anchor="end" textLength="6.75" lengthAdjust="spacingAndGlyphs" >0</text>
<text x="387.85" y="379.45" font-size="11" fill="#000" text-anchor="end" textLength="13.60" lengthAdjust="spacingAndGlyphs" >−1</text>
<text x="387.05" y="419.92" font-size="11" fill="#000" text-anchor="end" textLength="14.75" lengthAdjust="spacingAndGlyphs" >−2</text>
<text x="387.05" y="460.40" font-size="11" fill="#000" text-anchor="end" textLength="14.75" lengthAdjust="spacingAndGlyphs" >−3</text>
<text x="486.12" y="481.70" font-size="12" fill="#000" text-anchor="start" textLength="6.00" lengthAdjust="spacingAndGlyphs" >E</text>
<text x="493.32" y="484.70" font-size="7.5" fill="#000" text-anchor="start" textLength="4.40" lengthAdjust="spacingAndGlyphs" stroke="#000" stroke-width="0.2">γ</text>
<text x="497.93" y="481.70" font-size="12" fill="#000" text-anchor="start" textLength="30.80" lengthAdjust="spacingAndGlyphs" >(MeV)</text>
</g>
<text x="73.00" y="220.30" font-size="12" fill="#000" text-anchor="start" textLength="8.50" lengthAdjust="spacingAndGlyphs" transform="rotate(-90 73.00 220.30)" stroke="#000" stroke-width="0.12">M</text>
<text x="77.20" y="210.30" font-size="8.5" fill="#000" text-anchor="start" textLength="7.20" lengthAdjust="spacingAndGlyphs" transform="rotate(-90 77.20 210.30)" stroke="#000" stroke-width="0.25">1+</text>
<text x="73.00" y="202.80" font-size="12" fill="#000" text-anchor="start" textLength="29.60" lengthAdjust="spacingAndGlyphs" transform="rotate(-90 73.00 202.80)" stroke="#fff" stroke-width="0.1">(3/2)</text>
<text x="73.00" y="163.60" font-size="12" fill="#000" text-anchor="start" textLength="14.20" lengthAdjust="spacingAndGlyphs" transform="rotate(-90 73.00 163.60)" >(10</text>
<text x="69.60" y="148.60" font-size="9.5" fill="#000" text-anchor="start" textLength="9.20" lengthAdjust="spacingAndGlyphs" transform="rotate(-90 69.60 148.60)" stroke="#000" stroke-width="0.25">−3</text>
<text x="73.00" y="129.50" font-size="14" fill="#000" text-anchor="start" textLength="9.30" lengthAdjust="spacingAndGlyphs" transform="rotate(-90 73.00 129.50)" >m</text>
<text x="77.20" y="119.50" font-size="8.5" fill="#000" text-anchor="start" textLength="8.00" lengthAdjust="spacingAndGlyphs" transform="rotate(-90 77.20 119.50)" stroke="#000" stroke-width="0.25">π+</text>
<text x="73.00" y="110.50" font-size="12" fill="#000" text-anchor="start" textLength="4.00" lengthAdjust="spacingAndGlyphs" transform="rotate(-90 73.00 110.50)" >)</text>
<line x1="75.00" y1="138.30" x2="62.40" y2="130.40" stroke="#000" stroke-width="1.05"/>
<text x="359.00" y="220.30" font-size="12" fill="#000" text-anchor="start" textLength="8.50" lengthAdjust="spacingAndGlyphs" transform="rotate(-90 359.00 220.30)" stroke="#000" stroke-width="0.12">M</text>
<text x="363.20" y="210.30" font-size="8.5" fill="#000" text-anchor="start" textLength="7.20" lengthAdjust="spacingAndGlyphs" transform="rotate(-90 363.20 210.30)" stroke="#000" stroke-width="0.25">1+</text>
<text x="359.00" y="202.80" font-size="12" fill="#000" text-anchor="start" textLength="29.60" lengthAdjust="spacingAndGlyphs" transform="rotate(-90 359.00 202.80)" stroke="#fff" stroke-width="0.1">(3/2)</text>
<text x="359.00" y="163.60" font-size="12" fill="#000" text-anchor="start" textLength="14.20" lengthAdjust="spacingAndGlyphs" transform="rotate(-90 359.00 163.60)" >(10</text>
<text x="355.60" y="148.60" font-size="9.5" fill="#000" text-anchor="start" textLength="9.20" lengthAdjust="spacingAndGlyphs" transform="rotate(-90 355.60 148.60)" stroke="#000" stroke-width="0.25">−3</text>
<text x="359.00" y="129.50" font-size="14" fill="#000" text-anchor="start" textLength="9.30" lengthAdjust="spacingAndGlyphs" transform="rotate(-90 359.00 129.50)" >m</text>
<text x="363.20" y="119.50" font-size="8.5" fill="#000" text-anchor="start" textLength="8.00" lengthAdjust="spacingAndGlyphs" transform="rotate(-90 363.20 119.50)" stroke="#000" stroke-width="0.25">π+</text>
<text x="359.00" y="110.50" font-size="12" fill="#000" text-anchor="start" textLength="4.00" lengthAdjust="spacingAndGlyphs" transform="rotate(-90 359.00 110.50)" >)</text>
<line x1="361.00" y1="138.30" x2="348.40" y2="130.40" stroke="#000" stroke-width="1.05"/>
<text x="78.00" y="434.50" font-size="12" fill="#000" text-anchor="start" textLength="6.20" lengthAdjust="spacingAndGlyphs" transform="rotate(-90 78.00 434.50)" stroke="#000" stroke-width="0.12">E</text>
<text x="82.20" y="427.30" font-size="8.5" fill="#000" text-anchor="start" textLength="7.20" lengthAdjust="spacingAndGlyphs" transform="rotate(-90 82.20 427.30)" stroke="#000" stroke-width="0.25">1+</text>
<text x="78.00" y="419.80" font-size="12" fill="#000" text-anchor="start" textLength="29.60" lengthAdjust="spacingAndGlyphs" transform="rotate(-90 78.00 419.80)" stroke="#fff" stroke-width="0.1">(3/2)</text>
<text x="78.00" y="380.60" font-size="12" fill="#000" text-anchor="start" textLength="14.20" lengthAdjust="spacingAndGlyphs" transform="rotate(-90 78.00 380.60)" >(10</text>
<text x="74.60" y="365.60" font-size="9.5" fill="#000" text-anchor="start" textLength="9.20" lengthAdjust="spacingAndGlyphs" transform="rotate(-90 74.60 365.60)" stroke="#000" stroke-width="0.25">−3</text>
<text x="78.00" y="346.50" font-size="14" fill="#000" text-anchor="start" textLength="9.30" lengthAdjust="spacingAndGlyphs" transform="rotate(-90 78.00 346.50)" >m</text>
<text x="82.20" y="336.50" font-size="8.5" fill="#000" text-anchor="start" textLength="8.00" lengthAdjust="spacingAndGlyphs" transform="rotate(-90 82.20 336.50)" stroke="#000" stroke-width="0.25">π+</text>
<text x="78.00" y="327.50" font-size="12" fill="#000" text-anchor="start" textLength="4.00" lengthAdjust="spacingAndGlyphs" transform="rotate(-90 78.00 327.50)" >)</text>
<line x1="80.00" y1="355.30" x2="67.40" y2="347.40" stroke="#000" stroke-width="1.05"/>
<text x="366.00" y="433.40" font-size="12" fill="#000" text-anchor="start" textLength="6.20" lengthAdjust="spacingAndGlyphs" transform="rotate(-90 366.00 433.40)" stroke="#000" stroke-width="0.12">E</text>
<text x="370.20" y="426.20" font-size="8.5" fill="#000" text-anchor="start" textLength="7.20" lengthAdjust="spacingAndGlyphs" transform="rotate(-90 370.20 426.20)" stroke="#000" stroke-width="0.25">1+</text>
<text x="366.00" y="418.70" font-size="12" fill="#000" text-anchor="start" textLength="29.60" lengthAdjust="spacingAndGlyphs" transform="rotate(-90 366.00 418.70)" stroke="#fff" stroke-width="0.1">(3/2)</text>
<text x="366.00" y="379.50" font-size="12" fill="#000" text-anchor="start" textLength="14.20" lengthAdjust="spacingAndGlyphs" transform="rotate(-90 366.00 379.50)" >(10</text>
<text x="362.60" y="364.50" font-size="9.5" fill="#000" text-anchor="start" textLength="9.20" lengthAdjust="spacingAndGlyphs" transform="rotate(-90 362.60 364.50)" stroke="#000" stroke-width="0.25">−3</text>
<text x="366.00" y="345.40" font-size="14" fill="#000" text-anchor="start" textLength="9.30" lengthAdjust="spacingAndGlyphs" transform="rotate(-90 366.00 345.40)" >m</text>
<text x="370.20" y="335.40" font-size="8.5" fill="#000" text-anchor="start" textLength="8.00" lengthAdjust="spacingAndGlyphs" transform="rotate(-90 370.20 335.40)" stroke="#000" stroke-width="0.25">π+</text>
<text x="366.00" y="326.40" font-size="12" fill="#000" text-anchor="start" textLength="4.00" lengthAdjust="spacingAndGlyphs" transform="rotate(-90 366.00 326.40)" >)</text>
<line x1="368.00" y1="354.20" x2="355.40" y2="346.30" stroke="#000" stroke-width="1.05"/>
<text x="120.60" y="100.80" font-size="13" fill="#f00" text-anchor="start" textLength="13.50" lengthAdjust="spacingAndGlyphs" stroke="#f00" stroke-width="0.3">Im</text>
<text x="142.80" y="100.80" font-size="13" fill="#f00" text-anchor="start" textLength="8.30" lengthAdjust="spacingAndGlyphs" stroke="#f00" stroke-width="0.3">M</text>
<text x="152.80" y="105.80" font-size="9" fill="#f00" text-anchor="start" textLength="8.20" lengthAdjust="spacingAndGlyphs" stroke="#f00" stroke-width="0.25">1+</text>
<text x="161.30" y="100.80" font-size="13" fill="#f00" text-anchor="start" textLength="35.20" lengthAdjust="spacingAndGlyphs" stroke="#fff" stroke-width="0.12">(3/2)</text>
<text x="509.60" y="101.40" font-size="13" fill="#f00" text-anchor="start" textLength="14.20" lengthAdjust="spacingAndGlyphs" stroke="#f00" stroke-width="0.3">Re</text>
<text x="532.60" y="101.40" font-size="13" fill="#f00" text-anchor="start" textLength="8.60" lengthAdjust="spacingAndGlyphs" stroke="#f00" stroke-width="0.3">M</text>
<text x="543.00" y="106.40" font-size="9" fill="#f00" text-anchor="start" textLength="8.00" lengthAdjust="spacingAndGlyphs" stroke="#f00" stroke-width="0.25">1+</text>
<text x="551.30" y="101.40" font-size="13" fill="#f00" text-anchor="start" textLength="35.20" lengthAdjust="spacingAndGlyphs" stroke="#fff" stroke-width="0.12">(3/2)</text>
<text x="135.20" y="324.10" font-size="13" fill="#f00" text-anchor="start" textLength="13.60" lengthAdjust="spacingAndGlyphs" stroke="#f00" stroke-width="0.3">Im</text>
<text x="157.30" y="324.10" font-size="13" fill="#f00" text-anchor="start" textLength="6.70" lengthAdjust="spacingAndGlyphs" stroke="#f00" stroke-width="0.3">E</text>
<text x="166.00" y="329.10" font-size="9" fill="#f00" text-anchor="start" textLength="8.00" lengthAdjust="spacingAndGlyphs" stroke="#f00" stroke-width="0.25">1+</text>
<text x="174.60" y="324.10" font-size="13" fill="#f00" text-anchor="start" textLength="35.50" lengthAdjust="spacingAndGlyphs" stroke="#fff" stroke-width="0.12">(3/2)</text>
<text x="416.10" y="319.40" font-size="13" fill="#f00" text-anchor="start" textLength="14.40" lengthAdjust="spacingAndGlyphs" stroke="#f00" stroke-width="0.3">Re</text>
<text x="439.30" y="319.40" font-size="13" fill="#f00" text-anchor="start" textLength="6.80" lengthAdjust="spacingAndGlyphs" stroke="#f00" stroke-width="0.3">E</text>
<text x="448.00" y="324.40" font-size="9" fill="#f00" text-anchor="start" textLength="8.00" lengthAdjust="spacingAndGlyphs" stroke="#f00" stroke-width="0.25">1+</text>
<text x="456.80" y="319.40" font-size="13" fill="#f00" text-anchor="start" textLength="35.00" lengthAdjust="spacingAndGlyphs" stroke="#fff" stroke-width="0.12">(3/2)</text>
</svg>
</body></html>
